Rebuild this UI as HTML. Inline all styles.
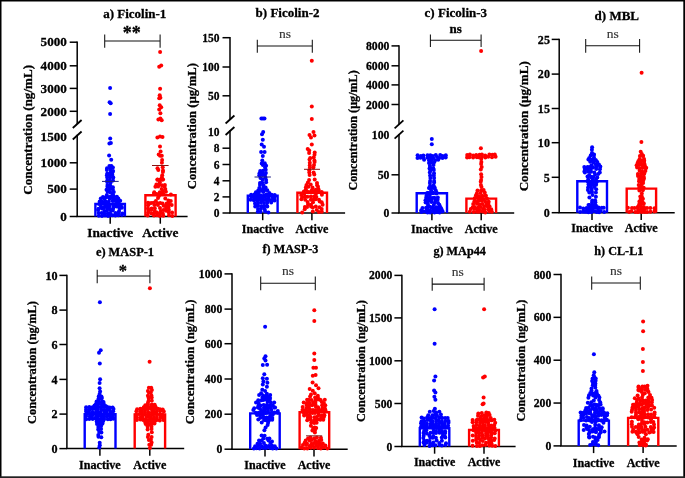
<!DOCTYPE html>
<html><head><meta charset="utf-8"><style>
html,body{margin:0;padding:0;background:#fff;}
svg{display:block;filter:blur(0.4px);}
text{font-family:"Liberation Serif", serif;fill:#000;stroke:#000;stroke-width:0.3px;}
.t{font-weight:bold;}
.tk{font-weight:bold;font-size:12.5px;text-anchor:end;}
.xl{font-weight:bold;font-size:11.8px;text-anchor:middle;}
.yl{font-weight:bold;font-size:13px;text-anchor:middle;}
.sg{text-anchor:middle;fill:#333;stroke:#333;stroke-width:0.15px;}
.sgb{font-weight:bold;text-anchor:middle;}
.ax{stroke:#000;stroke-width:1.5;fill:none;}
.sl{stroke:#000;stroke-width:1.8;}
.br{stroke:#111;stroke-width:1.05;fill:none;}
</style></head><body>
<svg width="685" height="478" viewBox="0 0 685 478">
<rect x="0" y="0" width="685" height="1.5" fill="#000"/><rect x="0" y="0" width="1.5" height="478" fill="#000"/><rect x="683.3" y="0" width="1.7" height="478" fill="#000"/><rect x="0" y="476.3" width="685" height="1.7" fill="#222"/>
<text x="103.2" y="17.6" class="t" style="font-size:13.0px">a) Ficolin-1</text>
<line x1="77.2" y1="41.45" x2="77.2" y2="124" class="ax"/>
<line x1="77.2" y1="134.75" x2="77.2" y2="216.5" class="ax"/>
<line x1="72.8" y1="128" x2="81.6" y2="120" class="sl"/>
<line x1="72.8" y1="139.5" x2="81.6" y2="131.5" class="sl"/>
<line x1="69.7" y1="42.2" x2="77.2" y2="42.2" class="ax"/>
<text transform="translate(66.8,46.42) scale(1.0,1)" class="tk" style="font-size:13.1px">5000</text>
<line x1="69.7" y1="65.8" x2="77.2" y2="65.8" class="ax"/>
<text transform="translate(66.8,70.02) scale(1.0,1)" class="tk" style="font-size:13.1px">4000</text>
<line x1="69.7" y1="88.4" x2="77.2" y2="88.4" class="ax"/>
<text transform="translate(66.8,92.62) scale(1.0,1)" class="tk" style="font-size:13.1px">3000</text>
<line x1="69.7" y1="111.3" x2="77.2" y2="111.3" class="ax"/>
<text transform="translate(66.8,115.52) scale(1.0,1)" class="tk" style="font-size:13.1px">2000</text>
<line x1="69.7" y1="162.8" x2="77.2" y2="162.8" class="ax"/>
<text transform="translate(66.8,167.02) scale(1.0,1)" class="tk" style="font-size:13.1px">1000</text>
<line x1="69.7" y1="189.1" x2="77.2" y2="189.1" class="ax"/>
<text transform="translate(66.8,193.32) scale(1.0,1)" class="tk" style="font-size:13.1px">500</text>
<line x1="69.7" y1="216.5" x2="77.2" y2="216.5" class="ax"/>
<text transform="translate(66.8,220.72) scale(1.0,1)" class="tk" style="font-size:13.1px">0</text>
<text transform="translate(66.8,140.72) scale(1.0,1)" class="tk" style="font-size:13.1px">1500</text>
<line x1="76.45" y1="216.5" x2="187.6" y2="216.5" class="ax"/>
<line x1="110.2" y1="216.5" x2="110.2" y2="223.7" class="ax"/>
<line x1="160.3" y1="216.5" x2="160.3" y2="223.7" class="ax"/>
<text x="110.2" y="237.4" class="xl" style="font-size:13.3px">Inactive</text>
<text x="160.3" y="237.4" class="xl" style="font-size:13.3px">Active</text>
<text transform="translate(32.2,129.9) rotate(-90)" class="yl" style="font-size:13.1px">Concentration (ng/mL)</text>
<path d="M104.7 41H160.1M104.7 34.4V47.7M160.1 34.4V47.7" class="br"/>
<text x="131.8" y="39.4" class="sgb" style="font-size:18px">**</text>
<path d="M95.4 216.5V204H124.9V216.5" fill="none" stroke="#0000ff" stroke-width="2.4"/>
<path d="M145.4 216.5V195.2H175.6V216.5" fill="none" stroke="#ff0000" stroke-width="2.4"/>
<text x="255.6" y="17.2" class="t" style="font-size:13.0px">b) Ficolin-2</text>
<line x1="230" y1="36.95" x2="230" y2="119.5" class="ax"/>
<line x1="230" y1="130.25" x2="230" y2="213" class="ax"/>
<line x1="225.6" y1="123.5" x2="234.4" y2="115.5" class="sl"/>
<line x1="225.6" y1="135" x2="234.4" y2="127" class="sl"/>
<line x1="222.5" y1="37.7" x2="230" y2="37.7" class="ax"/>
<text transform="translate(219.6,41.7) scale(0.92,1)" class="tk" style="font-size:12.5px">150</text>
<line x1="222.5" y1="67" x2="230" y2="67" class="ax"/>
<text transform="translate(219.6,71) scale(0.92,1)" class="tk" style="font-size:12.5px">100</text>
<line x1="222.5" y1="95.8" x2="230" y2="95.8" class="ax"/>
<text transform="translate(219.6,99.8) scale(0.92,1)" class="tk" style="font-size:12.5px">50</text>
<line x1="222.5" y1="148.2" x2="230" y2="148.2" class="ax"/>
<text transform="translate(219.6,152.2) scale(0.92,1)" class="tk" style="font-size:12.5px">8</text>
<line x1="222.5" y1="164.5" x2="230" y2="164.5" class="ax"/>
<text transform="translate(219.6,168.5) scale(0.92,1)" class="tk" style="font-size:12.5px">6</text>
<line x1="222.5" y1="180.8" x2="230" y2="180.8" class="ax"/>
<text transform="translate(219.6,184.8) scale(0.92,1)" class="tk" style="font-size:12.5px">4</text>
<line x1="222.5" y1="196.9" x2="230" y2="196.9" class="ax"/>
<text transform="translate(219.6,200.9) scale(0.92,1)" class="tk" style="font-size:12.5px">2</text>
<line x1="222.5" y1="213" x2="230" y2="213" class="ax"/>
<text transform="translate(219.6,217) scale(0.92,1)" class="tk" style="font-size:12.5px">0</text>
<text transform="translate(219.6,136.4) scale(0.92,1)" class="tk" style="font-size:12.5px">10</text>
<line x1="229.25" y1="213" x2="345.1" y2="213" class="ax"/>
<line x1="262.7" y1="213" x2="262.7" y2="220.2" class="ax"/>
<line x1="311.9" y1="213" x2="311.9" y2="220.2" class="ax"/>
<text x="262.7" y="233.1" class="xl" style="font-size:12.1px">Inactive</text>
<text x="311.9" y="233.1" class="xl" style="font-size:12.1px">Active</text>
<text transform="translate(195.5,126.15) rotate(-90)" class="yl" style="font-size:12.7px">Concentration (µg/mL)</text>
<path d="M257.3 46H312.3M257.3 39.7V52.7M312.3 39.7V52.7" class="br"/>
<text x="284.9" y="38.2" class="sg" style="font-size:13.5px">ns</text>
<path d="M247.8 213V195.7H277.6V213" fill="none" stroke="#0000ff" stroke-width="2.4"/>
<path d="M297.4 213V192.8H327V213" fill="none" stroke="#ff0000" stroke-width="2.4"/>
<text x="424.6" y="16.6" class="t" style="font-size:13.0px">c) Ficolin-3</text>
<line x1="399" y1="45.15" x2="399" y2="124.3" class="ax"/>
<line x1="399" y1="133.95" x2="399" y2="213" class="ax"/>
<line x1="394.6" y1="128.3" x2="403.4" y2="120.3" class="sl"/>
<line x1="394.6" y1="138.7" x2="403.4" y2="130.7" class="sl"/>
<line x1="391.5" y1="45.9" x2="399" y2="45.9" class="ax"/>
<text transform="translate(389.4,50.01) scale(0.92,1)" class="tk" style="font-size:12.8px">8000</text>
<line x1="391.5" y1="65.8" x2="399" y2="65.8" class="ax"/>
<text transform="translate(389.4,69.91) scale(0.92,1)" class="tk" style="font-size:12.8px">6000</text>
<line x1="391.5" y1="84.9" x2="399" y2="84.9" class="ax"/>
<text transform="translate(389.4,89.01) scale(0.92,1)" class="tk" style="font-size:12.8px">4000</text>
<line x1="391.5" y1="104.5" x2="399" y2="104.5" class="ax"/>
<text transform="translate(389.4,108.61) scale(0.92,1)" class="tk" style="font-size:12.8px">2000</text>
<line x1="391.5" y1="174.8" x2="399" y2="174.8" class="ax"/>
<text transform="translate(389.4,178.91) scale(0.92,1)" class="tk" style="font-size:12.8px">50</text>
<line x1="391.5" y1="213" x2="399" y2="213" class="ax"/>
<text transform="translate(389.4,217.11) scale(0.92,1)" class="tk" style="font-size:12.8px">0</text>
<text transform="translate(389.4,139.41) scale(0.92,1)" class="tk" style="font-size:12.8px">100</text>
<line x1="398.25" y1="213" x2="514.2" y2="213" class="ax"/>
<line x1="431.9" y1="213" x2="431.9" y2="220.2" class="ax"/>
<line x1="481.2" y1="213" x2="481.2" y2="220.2" class="ax"/>
<text x="431.9" y="232.5" class="xl" style="font-size:12.1px">Inactive</text>
<text x="481.2" y="232.5" class="xl" style="font-size:12.1px">Active</text>
<text transform="translate(357.4,130.4) rotate(-90)" class="yl" style="font-size:12.1px">Concentration (µg/mL)</text>
<path d="M430.4 40.2H481.1M430.4 34.4V47M481.1 34.4V47" class="br"/>
<text x="455.6" y="32.6" class="sgb" style="font-size:13px">ns</text>
<path d="M416.7 213V193.2H447V213" fill="none" stroke="#0000ff" stroke-width="2.4"/>
<path d="M466.4 213V198.6H496.1V213" fill="none" stroke="#ff0000" stroke-width="2.4"/>
<text x="594.6" y="19.6" class="t" style="font-size:13.0px">d) MBL</text>
<line x1="559.2" y1="38.65" x2="559.2" y2="212.7" class="ax"/>
<line x1="551.7" y1="39.4" x2="559.2" y2="39.4" class="ax"/>
<text transform="translate(549.9,43.72) scale(0.9,1)" class="tk" style="font-size:13.4px">25</text>
<line x1="551.7" y1="74.1" x2="559.2" y2="74.1" class="ax"/>
<text transform="translate(549.9,78.42) scale(0.9,1)" class="tk" style="font-size:13.4px">20</text>
<line x1="551.7" y1="108.5" x2="559.2" y2="108.5" class="ax"/>
<text transform="translate(549.9,112.82) scale(0.9,1)" class="tk" style="font-size:13.4px">15</text>
<line x1="551.7" y1="142.7" x2="559.2" y2="142.7" class="ax"/>
<text transform="translate(549.9,147.02) scale(0.9,1)" class="tk" style="font-size:13.4px">10</text>
<line x1="551.7" y1="177.3" x2="559.2" y2="177.3" class="ax"/>
<text transform="translate(549.9,181.62) scale(0.9,1)" class="tk" style="font-size:13.4px">5</text>
<line x1="551.7" y1="212.7" x2="559.2" y2="212.7" class="ax"/>
<text transform="translate(549.9,217.02) scale(0.9,1)" class="tk" style="font-size:13.4px">0</text>
<line x1="558.45" y1="212.7" x2="674.7" y2="212.7" class="ax"/>
<line x1="592" y1="212.7" x2="592" y2="219.9" class="ax"/>
<line x1="641.2" y1="212.7" x2="641.2" y2="219.9" class="ax"/>
<text x="592" y="232" class="xl" style="font-size:12.1px">Inactive</text>
<text x="641.2" y="232" class="xl" style="font-size:12.1px">Active</text>
<text transform="translate(528.3,126.3) rotate(-90)" class="yl" style="font-size:13.1px">Concentration (µg/mL)</text>
<path d="M585.7 45.7H639.6M585.7 38.9V52.7M639.6 38.9V52.7" class="br"/>
<text x="612.7" y="37.7" class="sg" style="font-size:13.5px">ns</text>
<path d="M577.3 212.7V181.3H607V212.7" fill="none" stroke="#0000ff" stroke-width="2.4"/>
<path d="M626.7 212.7V188.6H656.1V212.7" fill="none" stroke="#ff0000" stroke-width="2.4"/>
<text x="95.9" y="255.6" class="t" style="font-size:12.4px">e) MASP-1</text>
<line x1="66.9" y1="274.65" x2="66.9" y2="448.6" class="ax"/>
<line x1="59.4" y1="275.4" x2="66.9" y2="275.4" class="ax"/>
<text transform="translate(57.6,279.51) scale(0.95,1)" class="tk" style="font-size:12.8px">10</text>
<line x1="59.4" y1="310.1" x2="66.9" y2="310.1" class="ax"/>
<text transform="translate(57.6,314.21) scale(0.95,1)" class="tk" style="font-size:12.8px">8</text>
<line x1="59.4" y1="344.5" x2="66.9" y2="344.5" class="ax"/>
<text transform="translate(57.6,348.61) scale(0.95,1)" class="tk" style="font-size:12.8px">6</text>
<line x1="59.4" y1="379.4" x2="66.9" y2="379.4" class="ax"/>
<text transform="translate(57.6,383.51) scale(0.95,1)" class="tk" style="font-size:12.8px">4</text>
<line x1="59.4" y1="414.1" x2="66.9" y2="414.1" class="ax"/>
<text transform="translate(57.6,418.21) scale(0.95,1)" class="tk" style="font-size:12.8px">2</text>
<line x1="59.4" y1="448.6" x2="66.9" y2="448.6" class="ax"/>
<text transform="translate(57.6,452.71) scale(0.95,1)" class="tk" style="font-size:12.8px">0</text>
<line x1="66.15" y1="448.6" x2="184.2" y2="448.6" class="ax"/>
<line x1="99.9" y1="448.6" x2="99.9" y2="455.8" class="ax"/>
<line x1="149.8" y1="448.6" x2="149.8" y2="455.8" class="ax"/>
<text x="99.9" y="468.7" class="xl" style="font-size:12.1px">Inactive</text>
<text x="149.8" y="468.7" class="xl" style="font-size:12.1px">Active</text>
<text transform="translate(35.7,362.55) rotate(-90)" class="yl" style="font-size:12.4px">Concentration (ng/mL)</text>
<path d="M97.2 276H149.9M97.2 269.7V283.2M149.9 269.7V283.2" class="br"/>
<text x="122.75" y="275.6" class="sgb" style="font-size:16.5px">*</text>
<path d="M84.7 448.6V414.2H115.5V448.6" fill="none" stroke="#0000ff" stroke-width="2.4"/>
<path d="M134.7 448.6V414.5H165.1V448.6" fill="none" stroke="#ff0000" stroke-width="2.4"/>
<text x="262.5" y="253.3" class="t" style="font-size:12.2px">f) MASP-3</text>
<line x1="232" y1="273.15" x2="232" y2="449.2" class="ax"/>
<line x1="224.5" y1="273.9" x2="232" y2="273.9" class="ax"/>
<text transform="translate(222.3,278.01) scale(0.92,1)" class="tk" style="font-size:12.8px">1000</text>
<line x1="224.5" y1="309.1" x2="232" y2="309.1" class="ax"/>
<text transform="translate(222.3,313.21) scale(0.92,1)" class="tk" style="font-size:12.8px">800</text>
<line x1="224.5" y1="343.7" x2="232" y2="343.7" class="ax"/>
<text transform="translate(222.3,347.81) scale(0.92,1)" class="tk" style="font-size:12.8px">600</text>
<line x1="224.5" y1="379" x2="232" y2="379" class="ax"/>
<text transform="translate(222.3,383.11) scale(0.92,1)" class="tk" style="font-size:12.8px">400</text>
<line x1="224.5" y1="414.2" x2="232" y2="414.2" class="ax"/>
<text transform="translate(222.3,418.31) scale(0.92,1)" class="tk" style="font-size:12.8px">200</text>
<line x1="224.5" y1="449.2" x2="232" y2="449.2" class="ax"/>
<text transform="translate(222.3,453.31) scale(0.92,1)" class="tk" style="font-size:12.8px">0</text>
<line x1="231.25" y1="449.2" x2="347.7" y2="449.2" class="ax"/>
<line x1="265" y1="449.2" x2="265" y2="456.4" class="ax"/>
<line x1="314" y1="449.2" x2="314" y2="456.4" class="ax"/>
<text x="265" y="468.5" class="xl" style="font-size:12.0px">Inactive</text>
<text x="314" y="468.5" class="xl" style="font-size:12.0px">Active</text>
<text transform="translate(194,361.9) rotate(-90)" class="yl" style="font-size:12.6px">Concentration (ng/mL)</text>
<path d="M260.7 283.2H315.3M260.7 276.4V290.3M315.3 276.4V290.3" class="br"/>
<text x="288.1" y="275.2" class="sg" style="font-size:13.5px">ns</text>
<path d="M250.2 449.2V413.4H279.7V449.2" fill="none" stroke="#0000ff" stroke-width="2.4"/>
<path d="M299.6 449.2V412.3H329.2V449.2" fill="none" stroke="#ff0000" stroke-width="2.4"/>
<text x="433.4" y="255.1" class="t" style="font-size:12.2px">g) MAp44</text>
<line x1="401.9" y1="274.65" x2="401.9" y2="446.5" class="ax"/>
<line x1="394.4" y1="275.4" x2="401.9" y2="275.4" class="ax"/>
<text transform="translate(392.3,279.47) scale(0.92,1)" class="tk" style="font-size:12.7px">2000</text>
<line x1="394.4" y1="317.9" x2="401.9" y2="317.9" class="ax"/>
<text transform="translate(392.3,321.97) scale(0.92,1)" class="tk" style="font-size:12.7px">1500</text>
<line x1="394.4" y1="360.8" x2="401.9" y2="360.8" class="ax"/>
<text transform="translate(392.3,364.87) scale(0.92,1)" class="tk" style="font-size:12.7px">1000</text>
<line x1="394.4" y1="403.5" x2="401.9" y2="403.5" class="ax"/>
<text transform="translate(392.3,407.57) scale(0.92,1)" class="tk" style="font-size:12.7px">500</text>
<line x1="394.4" y1="446.5" x2="401.9" y2="446.5" class="ax"/>
<text transform="translate(392.3,450.57) scale(0.92,1)" class="tk" style="font-size:12.7px">0</text>
<line x1="401.15" y1="446.5" x2="515.6" y2="446.5" class="ax"/>
<line x1="434.6" y1="446.5" x2="434.6" y2="453.7" class="ax"/>
<line x1="484" y1="446.5" x2="484" y2="453.7" class="ax"/>
<text x="434.6" y="466.3" class="xl" style="font-size:12.0px">Inactive</text>
<text x="484" y="466.3" class="xl" style="font-size:12.0px">Active</text>
<text transform="translate(364.5,361.05) rotate(-90)" class="yl" style="font-size:12.3px">Concentration (ng/mL)</text>
<path d="M432.2 284.1H484.1M432.2 277.7V290.8M484.1 277.7V290.8" class="br"/>
<text x="457.7" y="276.4" class="sg" style="font-size:13.5px">ns</text>
<path d="M419.8 446.5V428.2H449.3V446.5" fill="none" stroke="#0000ff" stroke-width="2.4"/>
<path d="M469.1 446.5V430H498.9V446.5" fill="none" stroke="#ff0000" stroke-width="2.4"/>
<text x="594.3" y="254.6" class="t" style="font-size:12.2px">h) CL-L1</text>
<line x1="561" y1="273.75" x2="561" y2="445.9" class="ax"/>
<line x1="553.5" y1="274.5" x2="561" y2="274.5" class="ax"/>
<text transform="translate(551.3,278.61) scale(0.92,1)" class="tk" style="font-size:12.8px">800</text>
<line x1="553.5" y1="317.35" x2="561" y2="317.35" class="ax"/>
<text transform="translate(551.3,321.46) scale(0.92,1)" class="tk" style="font-size:12.8px">600</text>
<line x1="553.5" y1="360.2" x2="561" y2="360.2" class="ax"/>
<text transform="translate(551.3,364.31) scale(0.92,1)" class="tk" style="font-size:12.8px">400</text>
<line x1="553.5" y1="403.05" x2="561" y2="403.05" class="ax"/>
<text transform="translate(551.3,407.16) scale(0.92,1)" class="tk" style="font-size:12.8px">200</text>
<line x1="553.5" y1="445.9" x2="561" y2="445.9" class="ax"/>
<text transform="translate(551.3,450.01) scale(0.92,1)" class="tk" style="font-size:12.8px">0</text>
<line x1="560.25" y1="445.9" x2="676.7" y2="445.9" class="ax"/>
<line x1="593.6" y1="445.9" x2="593.6" y2="453.1" class="ax"/>
<line x1="643.1" y1="445.9" x2="643.1" y2="453.1" class="ax"/>
<text x="593.6" y="466.5" class="xl" style="font-size:12.1px">Inactive</text>
<text x="643.1" y="466.5" class="xl" style="font-size:12.1px">Active</text>
<text transform="translate(525.2,360.6) rotate(-90)" class="yl" style="font-size:12.3px">Concentration (ng/mL)</text>
<path d="M591.7 283H640.3M591.7 276.4V289.8M640.3 276.4V289.8" class="br"/>
<text x="616.1" y="275.2" class="sg" style="font-size:13.5px">ns</text>
<path d="M578.7 445.9V420.6H608.9V445.9" fill="none" stroke="#0000ff" stroke-width="2.4"/>
<path d="M628.1 445.9V417.9H658.3V445.9" fill="none" stroke="#ff0000" stroke-width="2.4"/>
<g fill="#0000ff"><circle cx="107.0" cy="168.2" r="2.0"/><circle cx="110.3" cy="167.8" r="2.0"/><circle cx="112.9" cy="167.4" r="2.0"/><circle cx="106.9" cy="169.9" r="2.0"/><circle cx="110.7" cy="170.0" r="2.0"/><circle cx="113.1" cy="171.0" r="2.0"/><circle cx="107.3" cy="173.4" r="2.0"/><circle cx="110.7" cy="172.6" r="2.0"/><circle cx="112.4" cy="172.6" r="2.0"/><circle cx="106.9" cy="175.3" r="2.0"/><circle cx="110.0" cy="175.3" r="2.0"/><circle cx="112.4" cy="174.9" r="2.0"/><circle cx="107.2" cy="177.4" r="2.0"/><circle cx="110.1" cy="177.4" r="2.0"/><circle cx="113.3" cy="177.4" r="2.0"/><circle cx="107.3" cy="180.5" r="2.0"/><circle cx="109.9" cy="180.7" r="2.0"/><circle cx="113.0" cy="180.4" r="2.0"/><circle cx="107.2" cy="181.9" r="2.0"/><circle cx="110.6" cy="182.6" r="2.0"/><circle cx="107.5" cy="185.0" r="2.0"/><circle cx="110.1" cy="185.3" r="2.0"/><circle cx="107.4" cy="186.8" r="2.0"/><circle cx="110.4" cy="187.9" r="2.0"/><circle cx="112.9" cy="187.2" r="2.0"/><circle cx="106.5" cy="189.7" r="2.0"/><circle cx="109.7" cy="189.2" r="2.0"/><circle cx="112.8" cy="189.4" r="2.0"/><circle cx="107.6" cy="191.7" r="2.0"/><circle cx="110.3" cy="192.6" r="2.0"/><circle cx="113.8" cy="191.9" r="2.0"/><circle cx="106.8" cy="195.0" r="2.0"/><circle cx="112.9" cy="194.3" r="2.0"/><circle cx="107.0" cy="197.1" r="2.0"/><circle cx="109.5" cy="196.9" r="2.0"/><circle cx="113.5" cy="197.5" r="2.0"/><circle cx="103.0" cy="197.1" r="2.0"/><circle cx="105.3" cy="197.5" r="2.0"/><circle cx="109.3" cy="197.4" r="2.0"/><circle cx="111.5" cy="196.5" r="2.0"/><circle cx="113.9" cy="196.5" r="2.0"/><circle cx="116.9" cy="196.8" r="2.0"/><circle cx="100.8" cy="198.6" r="2.0"/><circle cx="104.2" cy="198.4" r="2.0"/><circle cx="109.7" cy="198.7" r="2.0"/><circle cx="112.9" cy="198.5" r="2.0"/><circle cx="116.7" cy="199.0" r="2.0"/><circle cx="118.3" cy="198.5" r="2.0"/><circle cx="99.7" cy="201.4" r="2.0"/><circle cx="102.2" cy="201.5" r="2.0"/><circle cx="105.3" cy="201.1" r="2.0"/><circle cx="108.8" cy="201.6" r="2.0"/><circle cx="114.2" cy="200.8" r="2.0"/><circle cx="117.9" cy="201.0" r="2.0"/><circle cx="120.2" cy="200.7" r="2.0"/><circle cx="112.7" cy="201.0" r="2.0"/><circle cx="115.4" cy="200.4" r="2.0"/><circle cx="118.6" cy="201.2" r="2.0"/><circle cx="99.1" cy="204.0" r="2.0"/><circle cx="104.0" cy="203.1" r="2.0"/><circle cx="106.9" cy="203.6" r="2.0"/><circle cx="116.3" cy="203.8" r="2.0"/><circle cx="119.2" cy="203.9" r="2.0"/><circle cx="101.0" cy="206.2" r="2.0"/><circle cx="104.8" cy="206.4" r="2.0"/><circle cx="107.1" cy="206.4" r="2.0"/><circle cx="109.7" cy="205.4" r="2.0"/><circle cx="113.7" cy="206.2" r="2.0"/><circle cx="116.5" cy="206.4" r="2.0"/><circle cx="118.8" cy="205.9" r="2.0"/><circle cx="121.2" cy="206.4" r="2.0"/><circle cx="98.5" cy="208.8" r="2.0"/><circle cx="101.9" cy="208.6" r="2.0"/><circle cx="104.0" cy="208.0" r="2.0"/><circle cx="107.4" cy="208.0" r="2.0"/><circle cx="109.7" cy="208.7" r="2.0"/><circle cx="113.1" cy="208.4" r="2.0"/><circle cx="119.6" cy="208.3" r="2.0"/><circle cx="121.9" cy="207.7" r="2.0"/><circle cx="98.1" cy="210.1" r="2.0"/><circle cx="104.3" cy="210.9" r="2.0"/><circle cx="107.0" cy="210.7" r="2.0"/><circle cx="110.6" cy="210.2" r="2.0"/><circle cx="112.8" cy="210.4" r="2.0"/><circle cx="119.1" cy="211.0" r="2.0"/><circle cx="98.7" cy="213.1" r="2.0"/><circle cx="101.7" cy="213.0" r="2.0"/><circle cx="104.3" cy="213.6" r="2.0"/><circle cx="107.8" cy="213.6" r="2.0"/><circle cx="110.3" cy="213.6" r="2.0"/><circle cx="115.5" cy="213.0" r="2.0"/><circle cx="118.6" cy="212.6" r="2.0"/><circle cx="122.3" cy="213.6" r="2.0"/><circle cx="98.8" cy="215.7" r="2.0"/><circle cx="102.0" cy="216.1" r="2.0"/><circle cx="105.0" cy="215.4" r="2.0"/><circle cx="108.0" cy="215.9" r="2.0"/><circle cx="110.1" cy="215.5" r="2.0"/><circle cx="112.7" cy="215.3" r="2.0"/><circle cx="115.4" cy="215.6" r="2.0"/><circle cx="118.3" cy="215.3" r="2.0"/><circle cx="121.9" cy="215.0" r="2.0"/><circle cx="110.1" cy="88.1" r="2.0"/><circle cx="109.6" cy="102.3" r="2.0"/><circle cx="110.7" cy="103.2" r="2.0"/><circle cx="110.1" cy="114.1" r="2.0"/><circle cx="110.2" cy="138.6" r="2.0"/><circle cx="109.4" cy="143.6" r="2.0"/><circle cx="110.9" cy="143.1" r="2.0"/><circle cx="109.1" cy="155.6" r="2.0"/><circle cx="111.2" cy="159.8" r="2.0"/><circle cx="109.4" cy="166.1" r="2.0"/><circle cx="111.4" cy="166.1" r="2.0"/></g>
<g fill="#ff0000"><circle cx="162.1" cy="159.9" r="2.0"/><circle cx="161.9" cy="162.8" r="2.0"/><circle cx="157.5" cy="168.3" r="2.0"/><circle cx="162.7" cy="167.3" r="2.0"/><circle cx="158.3" cy="170.1" r="2.0"/><circle cx="163.0" cy="170.4" r="2.0"/><circle cx="162.9" cy="172.1" r="2.0"/><circle cx="162.2" cy="175.2" r="2.0"/><circle cx="161.9" cy="177.6" r="2.0"/><circle cx="157.5" cy="179.6" r="2.0"/><circle cx="162.0" cy="179.8" r="2.0"/><circle cx="157.4" cy="179.7" r="2.0"/><circle cx="159.7" cy="179.8" r="2.0"/><circle cx="163.1" cy="179.4" r="2.0"/><circle cx="159.8" cy="182.3" r="2.0"/><circle cx="156.4" cy="184.6" r="2.0"/><circle cx="159.3" cy="184.5" r="2.0"/><circle cx="161.9" cy="185.2" r="2.0"/><circle cx="164.9" cy="184.9" r="2.0"/><circle cx="155.4" cy="186.8" r="2.0"/><circle cx="158.1" cy="186.5" r="2.0"/><circle cx="164.4" cy="186.5" r="2.0"/><circle cx="161.6" cy="189.0" r="2.0"/><circle cx="165.3" cy="188.9" r="2.0"/><circle cx="154.2" cy="192.2" r="2.0"/><circle cx="159.8" cy="192.2" r="2.0"/><circle cx="162.8" cy="191.1" r="2.0"/><circle cx="165.9" cy="191.7" r="2.0"/><circle cx="154.0" cy="193.4" r="2.0"/><circle cx="156.5" cy="193.9" r="2.0"/><circle cx="159.5" cy="193.8" r="2.0"/><circle cx="163.4" cy="194.0" r="2.0"/><circle cx="162.3" cy="193.6" r="2.0"/><circle cx="170.9" cy="194.5" r="2.0"/><circle cx="158.7" cy="196.3" r="2.0"/><circle cx="158.0" cy="198.1" r="2.0"/><circle cx="165.3" cy="198.6" r="2.0"/><circle cx="155.9" cy="201.0" r="2.0"/><circle cx="168.4" cy="200.5" r="2.0"/><circle cx="170.8" cy="201.0" r="2.0"/><circle cx="149.3" cy="203.6" r="2.0"/><circle cx="148.0" cy="202.7" r="2.0"/><circle cx="151.2" cy="203.1" r="2.0"/><circle cx="153.7" cy="202.7" r="2.0"/><circle cx="157.5" cy="203.2" r="2.0"/><circle cx="160.2" cy="203.0" r="2.0"/><circle cx="162.6" cy="203.5" r="2.0"/><circle cx="166.7" cy="203.5" r="2.0"/><circle cx="168.9" cy="203.4" r="2.0"/><circle cx="148.1" cy="205.2" r="2.0"/><circle cx="154.4" cy="205.1" r="2.0"/><circle cx="157.9" cy="205.1" r="2.0"/><circle cx="163.7" cy="205.7" r="2.0"/><circle cx="166.7" cy="205.5" r="2.0"/><circle cx="168.4" cy="205.5" r="2.0"/><circle cx="171.7" cy="205.1" r="2.0"/><circle cx="148.0" cy="208.4" r="2.0"/><circle cx="151.6" cy="208.4" r="2.0"/><circle cx="154.8" cy="208.3" r="2.0"/><circle cx="160.0" cy="207.9" r="2.0"/><circle cx="166.0" cy="207.9" r="2.0"/><circle cx="168.5" cy="207.5" r="2.0"/><circle cx="148.8" cy="210.2" r="2.0"/><circle cx="151.2" cy="210.1" r="2.0"/><circle cx="154.8" cy="211.0" r="2.0"/><circle cx="160.8" cy="211.0" r="2.0"/><circle cx="163.5" cy="210.0" r="2.0"/><circle cx="166.1" cy="210.8" r="2.0"/><circle cx="168.9" cy="210.0" r="2.0"/><circle cx="148.1" cy="212.8" r="2.0"/><circle cx="151.5" cy="213.6" r="2.0"/><circle cx="154.4" cy="212.8" r="2.0"/><circle cx="157.0" cy="212.6" r="2.0"/><circle cx="159.8" cy="213.5" r="2.0"/><circle cx="162.8" cy="213.5" r="2.0"/><circle cx="168.8" cy="212.6" r="2.0"/><circle cx="172.1" cy="212.5" r="2.0"/><circle cx="147.7" cy="215.6" r="2.0"/><circle cx="154.0" cy="215.4" r="2.0"/><circle cx="157.0" cy="215.3" r="2.0"/><circle cx="159.9" cy="216.1" r="2.0"/><circle cx="163.3" cy="215.7" r="2.0"/><circle cx="169.0" cy="215.2" r="2.0"/><circle cx="172.3" cy="216.0" r="2.0"/><circle cx="160.1" cy="52.0" r="2.0"/><circle cx="159.2" cy="66.8" r="2.0"/><circle cx="161.2" cy="65.4" r="2.0"/><circle cx="160.1" cy="88.8" r="2.0"/><circle cx="159.7" cy="95.2" r="2.0"/><circle cx="160.4" cy="97.7" r="2.0"/><circle cx="159.2" cy="98.2" r="2.0"/><circle cx="159.7" cy="105.3" r="2.0"/><circle cx="161.2" cy="107.3" r="2.0"/><circle cx="159.2" cy="109.4" r="2.0"/><circle cx="160.4" cy="113.3" r="2.0"/><circle cx="158.4" cy="119.5" r="2.0"/><circle cx="161.7" cy="120.3" r="2.0"/><circle cx="160.4" cy="118.6" r="2.0"/><circle cx="157.4" cy="137.6" r="2.0"/><circle cx="162.5" cy="137.0" r="2.0"/><circle cx="160.0" cy="136.4" r="2.0"/><circle cx="160.0" cy="146.4" r="2.0"/><circle cx="160.6" cy="151.4" r="2.0"/><circle cx="158.7" cy="154.6" r="2.0"/><circle cx="161.8" cy="155.8" r="2.0"/><circle cx="160.1" cy="155.7" r="2.0"/></g>
<g fill="#0000ff"><circle cx="264.8" cy="163.3" r="2.0"/><circle cx="262.9" cy="164.9" r="2.0"/><circle cx="266.1" cy="165.8" r="2.0"/><circle cx="265.0" cy="167.5" r="2.0"/><circle cx="260.2" cy="170.9" r="2.0"/><circle cx="263.0" cy="170.7" r="2.0"/><circle cx="265.7" cy="169.8" r="2.0"/><circle cx="259.5" cy="173.3" r="2.0"/><circle cx="262.5" cy="172.4" r="2.0"/><circle cx="265.9" cy="173.1" r="2.0"/><circle cx="259.3" cy="175.3" r="2.0"/><circle cx="262.6" cy="174.9" r="2.0"/><circle cx="265.0" cy="175.0" r="2.0"/><circle cx="260.5" cy="177.9" r="2.0"/><circle cx="265.4" cy="177.4" r="2.0"/><circle cx="262.5" cy="179.6" r="2.0"/><circle cx="266.1" cy="180.1" r="2.0"/><circle cx="260.0" cy="183.1" r="2.0"/><circle cx="262.1" cy="182.4" r="2.0"/><circle cx="266.1" cy="182.3" r="2.0"/><circle cx="260.0" cy="185.1" r="2.0"/><circle cx="263.5" cy="184.9" r="2.0"/><circle cx="259.3" cy="187.9" r="2.0"/><circle cx="263.4" cy="187.5" r="2.0"/><circle cx="265.6" cy="187.4" r="2.0"/><circle cx="260.2" cy="189.6" r="2.0"/><circle cx="262.4" cy="190.6" r="2.0"/><circle cx="265.4" cy="189.5" r="2.0"/><circle cx="258.2" cy="190.5" r="2.0"/><circle cx="261.8" cy="190.5" r="2.0"/><circle cx="264.1" cy="190.5" r="2.0"/><circle cx="267.3" cy="190.2" r="2.0"/><circle cx="255.9" cy="192.3" r="2.0"/><circle cx="258.8" cy="192.2" r="2.0"/><circle cx="263.4" cy="192.0" r="2.0"/><circle cx="269.3" cy="192.9" r="2.0"/><circle cx="254.5" cy="194.5" r="2.0"/><circle cx="257.7" cy="195.5" r="2.0"/><circle cx="261.0" cy="195.5" r="2.0"/><circle cx="264.3" cy="195.4" r="2.0"/><circle cx="267.1" cy="194.4" r="2.0"/><circle cx="271.6" cy="194.7" r="2.0"/><circle cx="251.2" cy="194.8" r="2.0"/><circle cx="254.3" cy="195.1" r="2.0"/><circle cx="257.0" cy="194.8" r="2.0"/><circle cx="259.1" cy="195.3" r="2.0"/><circle cx="266.5" cy="194.4" r="2.0"/><circle cx="268.9" cy="195.5" r="2.0"/><circle cx="274.7" cy="194.9" r="2.0"/><circle cx="251.2" cy="197.1" r="2.0"/><circle cx="254.0" cy="197.9" r="2.0"/><circle cx="256.9" cy="197.3" r="2.0"/><circle cx="259.6" cy="197.8" r="2.0"/><circle cx="262.4" cy="197.8" r="2.0"/><circle cx="265.2" cy="196.9" r="2.0"/><circle cx="268.7" cy="198.1" r="2.0"/><circle cx="272.6" cy="197.2" r="2.0"/><circle cx="274.4" cy="197.5" r="2.0"/><circle cx="250.5" cy="199.7" r="2.0"/><circle cx="253.8" cy="200.2" r="2.0"/><circle cx="257.2" cy="200.2" r="2.0"/><circle cx="260.2" cy="199.8" r="2.0"/><circle cx="262.6" cy="200.3" r="2.0"/><circle cx="265.5" cy="199.7" r="2.0"/><circle cx="269.4" cy="200.1" r="2.0"/><circle cx="271.8" cy="200.6" r="2.0"/><circle cx="274.6" cy="200.4" r="2.0"/><circle cx="254.3" cy="199.5" r="2.0"/><circle cx="257.1" cy="200.4" r="2.0"/><circle cx="262.5" cy="199.5" r="2.0"/><circle cx="266.5" cy="200.1" r="2.0"/><circle cx="272.5" cy="199.9" r="2.0"/><circle cx="255.0" cy="203.5" r="2.0"/><circle cx="258.0" cy="203.1" r="2.0"/><circle cx="261.0" cy="202.6" r="2.0"/><circle cx="264.1" cy="203.1" r="2.0"/><circle cx="267.3" cy="202.4" r="2.0"/><circle cx="271.2" cy="202.6" r="2.0"/><circle cx="255.2" cy="206.4" r="2.0"/><circle cx="257.9" cy="205.5" r="2.0"/><circle cx="261.4" cy="206.2" r="2.0"/><circle cx="263.8" cy="206.2" r="2.0"/><circle cx="266.8" cy="205.8" r="2.0"/><circle cx="257.7" cy="205.8" r="2.0"/><circle cx="261.6" cy="206.6" r="2.0"/><circle cx="264.1" cy="206.3" r="2.0"/><circle cx="267.3" cy="206.5" r="2.0"/><circle cx="258.0" cy="208.9" r="2.0"/><circle cx="261.0" cy="208.6" r="2.0"/><circle cx="264.6" cy="209.2" r="2.0"/><circle cx="257.8" cy="211.8" r="2.0"/><circle cx="260.6" cy="211.7" r="2.0"/><circle cx="265.1" cy="211.5" r="2.0"/><circle cx="268.4" cy="212.6" r="2.0"/><circle cx="261.4" cy="118.6" r="2.0"/><circle cx="263.0" cy="118.6" r="2.0"/><circle cx="264.5" cy="118.6" r="2.0"/><circle cx="263.2" cy="131.9" r="2.0"/><circle cx="262.0" cy="134.2" r="2.0"/><circle cx="262.8" cy="139.7" r="2.0"/><circle cx="261.7" cy="144.5" r="2.0"/><circle cx="264.0" cy="146.8" r="2.0"/><circle cx="261.1" cy="152.0" r="2.0"/><circle cx="264.6" cy="152.0" r="2.0"/><circle cx="262.8" cy="156.0" r="2.0"/><circle cx="262.3" cy="160.6" r="2.0"/><circle cx="261.7" cy="163.5" r="2.0"/></g>
<g fill="#ff0000"><circle cx="309.2" cy="150.5" r="2.0"/><circle cx="309.1" cy="153.0" r="2.0"/><circle cx="314.7" cy="152.6" r="2.0"/><circle cx="314.5" cy="154.7" r="2.0"/><circle cx="310.2" cy="157.9" r="2.0"/><circle cx="313.7" cy="157.4" r="2.0"/><circle cx="309.5" cy="159.5" r="2.0"/><circle cx="314.4" cy="160.5" r="2.0"/><circle cx="309.8" cy="162.8" r="2.0"/><circle cx="314.6" cy="162.0" r="2.0"/><circle cx="309.8" cy="165.2" r="2.0"/><circle cx="314.0" cy="165.1" r="2.0"/><circle cx="309.9" cy="167.4" r="2.0"/><circle cx="313.4" cy="167.6" r="2.0"/><circle cx="309.3" cy="170.3" r="2.0"/><circle cx="309.3" cy="172.5" r="2.0"/><circle cx="313.6" cy="172.4" r="2.0"/><circle cx="309.6" cy="175.0" r="2.0"/><circle cx="314.3" cy="174.5" r="2.0"/><circle cx="309.1" cy="180.0" r="2.0"/><circle cx="314.7" cy="179.6" r="2.0"/><circle cx="307.9" cy="182.4" r="2.0"/><circle cx="317.0" cy="182.9" r="2.0"/><circle cx="306.5" cy="185.1" r="2.0"/><circle cx="310.7" cy="184.5" r="2.0"/><circle cx="317.1" cy="185.3" r="2.0"/><circle cx="305.9" cy="187.2" r="2.0"/><circle cx="308.4" cy="186.8" r="2.0"/><circle cx="312.5" cy="187.4" r="2.0"/><circle cx="318.0" cy="186.7" r="2.0"/><circle cx="305.9" cy="189.4" r="2.0"/><circle cx="312.0" cy="190.1" r="2.0"/><circle cx="315.7" cy="189.8" r="2.0"/><circle cx="318.5" cy="189.3" r="2.0"/><circle cx="308.4" cy="192.3" r="2.0"/><circle cx="311.4" cy="192.3" r="2.0"/><circle cx="315.7" cy="191.7" r="2.0"/><circle cx="319.3" cy="192.1" r="2.0"/><circle cx="303.9" cy="191.4" r="2.0"/><circle cx="307.7" cy="191.9" r="2.0"/><circle cx="311.0" cy="191.6" r="2.0"/><circle cx="313.6" cy="191.4" r="2.0"/><circle cx="316.1" cy="191.5" r="2.0"/><circle cx="318.8" cy="192.1" r="2.0"/><circle cx="321.7" cy="192.1" r="2.0"/><circle cx="301.2" cy="195.0" r="2.0"/><circle cx="304.1" cy="194.0" r="2.0"/><circle cx="315.9" cy="193.9" r="2.0"/><circle cx="321.9" cy="194.7" r="2.0"/><circle cx="302.3" cy="197.3" r="2.0"/><circle cx="305.2" cy="196.5" r="2.0"/><circle cx="307.4" cy="196.7" r="2.0"/><circle cx="310.8" cy="196.4" r="2.0"/><circle cx="314.0" cy="196.6" r="2.0"/><circle cx="316.4" cy="197.0" r="2.0"/><circle cx="301.4" cy="199.3" r="2.0"/><circle cx="305.2" cy="199.8" r="2.0"/><circle cx="310.9" cy="199.8" r="2.0"/><circle cx="313.7" cy="199.4" r="2.0"/><circle cx="315.7" cy="199.2" r="2.0"/><circle cx="319.0" cy="199.8" r="2.0"/><circle cx="307.6" cy="201.9" r="2.0"/><circle cx="313.0" cy="202.2" r="2.0"/><circle cx="319.7" cy="201.4" r="2.0"/><circle cx="321.7" cy="202.3" r="2.0"/><circle cx="308.1" cy="204.3" r="2.0"/><circle cx="311.0" cy="204.7" r="2.0"/><circle cx="322.6" cy="204.7" r="2.0"/><circle cx="304.9" cy="207.1" r="2.0"/><circle cx="307.1" cy="207.1" r="2.0"/><circle cx="311.0" cy="206.6" r="2.0"/><circle cx="312.8" cy="207.5" r="2.0"/><circle cx="315.8" cy="206.4" r="2.0"/><circle cx="319.5" cy="207.2" r="2.0"/><circle cx="304.7" cy="209.3" r="2.0"/><circle cx="316.8" cy="210.0" r="2.0"/><circle cx="321.7" cy="209.0" r="2.0"/><circle cx="302.2" cy="212.4" r="2.0"/><circle cx="312.8" cy="211.5" r="2.0"/><circle cx="318.9" cy="211.9" r="2.0"/><circle cx="321.8" cy="211.7" r="2.0"/><circle cx="311.8" cy="60.8" r="2.0"/><circle cx="311.8" cy="106.5" r="2.0"/><circle cx="311.8" cy="119.1" r="2.0"/><circle cx="309.5" cy="135.0" r="2.0"/><circle cx="313.5" cy="132.0" r="2.0"/><circle cx="314.5" cy="135.5" r="2.0"/><circle cx="311.0" cy="137.5" r="2.0"/><circle cx="311.8" cy="144.5" r="2.0"/><circle cx="307.7" cy="149.0" r="2.0"/></g>
<g fill="#0000ff"><circle cx="417.6" cy="155.3" r="2.0"/><circle cx="420.9" cy="155.9" r="2.0"/><circle cx="423.4" cy="155.4" r="2.0"/><circle cx="427.5" cy="155.3" r="2.0"/><circle cx="430.3" cy="155.2" r="2.0"/><circle cx="432.8" cy="155.9" r="2.0"/><circle cx="435.8" cy="155.1" r="2.0"/><circle cx="440.2" cy="154.9" r="2.0"/><circle cx="442.7" cy="155.9" r="2.0"/><circle cx="445.8" cy="155.3" r="2.0"/><circle cx="417.5" cy="158.0" r="2.0"/><circle cx="420.5" cy="157.7" r="2.0"/><circle cx="423.5" cy="157.7" r="2.0"/><circle cx="427.5" cy="157.7" r="2.0"/><circle cx="430.4" cy="157.3" r="2.0"/><circle cx="433.2" cy="158.0" r="2.0"/><circle cx="437.0" cy="156.9" r="2.0"/><circle cx="439.2" cy="158.0" r="2.0"/><circle cx="442.5" cy="158.0" r="2.0"/><circle cx="445.7" cy="157.5" r="2.0"/><circle cx="429.0" cy="160.2" r="2.0"/><circle cx="431.6" cy="159.6" r="2.0"/><circle cx="435.2" cy="160.3" r="2.0"/><circle cx="429.0" cy="163.0" r="2.0"/><circle cx="431.3" cy="162.6" r="2.0"/><circle cx="434.1" cy="162.3" r="2.0"/><circle cx="429.9" cy="165.7" r="2.0"/><circle cx="433.5" cy="165.0" r="2.0"/><circle cx="430.1" cy="167.6" r="2.0"/><circle cx="433.1" cy="168.6" r="2.0"/><circle cx="429.5" cy="168.6" r="2.0"/><circle cx="433.3" cy="168.6" r="2.0"/><circle cx="430.4" cy="170.4" r="2.0"/><circle cx="433.8" cy="170.0" r="2.0"/><circle cx="429.8" cy="172.4" r="2.0"/><circle cx="434.0" cy="173.2" r="2.0"/><circle cx="430.1" cy="175.5" r="2.0"/><circle cx="433.8" cy="175.4" r="2.0"/><circle cx="430.4" cy="177.9" r="2.0"/><circle cx="434.1" cy="177.9" r="2.0"/><circle cx="430.1" cy="181.0" r="2.0"/><circle cx="434.1" cy="180.9" r="2.0"/><circle cx="429.9" cy="182.9" r="2.0"/><circle cx="434.1" cy="182.5" r="2.0"/><circle cx="430.1" cy="185.8" r="2.0"/><circle cx="433.6" cy="185.4" r="2.0"/><circle cx="429.8" cy="187.9" r="2.0"/><circle cx="434.6" cy="187.6" r="2.0"/><circle cx="429.0" cy="187.9" r="2.0"/><circle cx="432.5" cy="187.4" r="2.0"/><circle cx="434.5" cy="188.3" r="2.0"/><circle cx="431.2" cy="190.6" r="2.0"/><circle cx="435.8" cy="190.5" r="2.0"/><circle cx="428.1" cy="193.0" r="2.0"/><circle cx="431.0" cy="192.7" r="2.0"/><circle cx="433.0" cy="193.3" r="2.0"/><circle cx="436.7" cy="192.8" r="2.0"/><circle cx="427.3" cy="192.9" r="2.0"/><circle cx="430.3" cy="192.9" r="2.0"/><circle cx="433.0" cy="192.7" r="2.0"/><circle cx="436.3" cy="193.5" r="2.0"/><circle cx="426.5" cy="195.7" r="2.0"/><circle cx="429.8" cy="194.9" r="2.0"/><circle cx="426.2" cy="197.7" r="2.0"/><circle cx="429.7" cy="197.5" r="2.0"/><circle cx="432.2" cy="198.0" r="2.0"/><circle cx="434.3" cy="197.7" r="2.0"/><circle cx="437.8" cy="197.5" r="2.0"/><circle cx="428.5" cy="199.7" r="2.0"/><circle cx="431.4" cy="199.4" r="2.0"/><circle cx="437.6" cy="199.8" r="2.0"/><circle cx="425.5" cy="200.2" r="2.0"/><circle cx="428.5" cy="200.5" r="2.0"/><circle cx="435.4" cy="200.5" r="2.0"/><circle cx="425.6" cy="202.6" r="2.0"/><circle cx="427.8" cy="202.9" r="2.0"/><circle cx="431.5" cy="201.9" r="2.0"/><circle cx="434.8" cy="202.7" r="2.0"/><circle cx="438.0" cy="202.9" r="2.0"/><circle cx="428.0" cy="204.9" r="2.0"/><circle cx="433.8" cy="205.1" r="2.0"/><circle cx="439.3" cy="204.8" r="2.0"/><circle cx="427.7" cy="207.3" r="2.0"/><circle cx="429.9" cy="206.8" r="2.0"/><circle cx="432.7" cy="207.2" r="2.0"/><circle cx="436.4" cy="207.2" r="2.0"/><circle cx="440.0" cy="206.6" r="2.0"/><circle cx="427.0" cy="209.8" r="2.0"/><circle cx="433.3" cy="210.2" r="2.0"/><circle cx="436.9" cy="209.8" r="2.0"/><circle cx="440.2" cy="209.8" r="2.0"/><circle cx="426.7" cy="212.0" r="2.0"/><circle cx="429.5" cy="211.4" r="2.0"/><circle cx="434.5" cy="212.4" r="2.0"/><circle cx="437.6" cy="212.0" r="2.0"/><circle cx="422.5" cy="207.9" r="2.0"/><circle cx="426.1" cy="207.8" r="2.0"/><circle cx="431.8" cy="207.7" r="2.0"/><circle cx="435.5" cy="208.2" r="2.0"/><circle cx="437.7" cy="207.8" r="2.0"/><circle cx="441.1" cy="208.2" r="2.0"/><circle cx="421.2" cy="210.3" r="2.0"/><circle cx="426.9" cy="209.8" r="2.0"/><circle cx="429.9" cy="210.5" r="2.0"/><circle cx="433.4" cy="210.3" r="2.0"/><circle cx="439.1" cy="210.2" r="2.0"/><circle cx="441.9" cy="210.2" r="2.0"/><circle cx="421.3" cy="211.9" r="2.0"/><circle cx="423.6" cy="211.6" r="2.0"/><circle cx="427.6" cy="212.5" r="2.0"/><circle cx="430.1" cy="212.4" r="2.0"/><circle cx="433.4" cy="211.7" r="2.0"/><circle cx="436.3" cy="211.8" r="2.0"/><circle cx="439.6" cy="212.5" r="2.0"/><circle cx="442.6" cy="211.4" r="2.0"/><circle cx="431.8" cy="139.1" r="2.0"/><circle cx="431.8" cy="144.3" r="2.0"/><circle cx="424.1" cy="159.7" r="2.0"/><circle cx="438.2" cy="159.7" r="2.0"/></g>
<g fill="#ff0000"><circle cx="467.2" cy="155.1" r="2.0"/><circle cx="469.9" cy="154.4" r="2.0"/><circle cx="473.2" cy="155.5" r="2.0"/><circle cx="476.2" cy="154.9" r="2.0"/><circle cx="479.6" cy="154.7" r="2.0"/><circle cx="481.9" cy="154.4" r="2.0"/><circle cx="485.2" cy="155.6" r="2.0"/><circle cx="489.4" cy="154.6" r="2.0"/><circle cx="492.4" cy="154.7" r="2.0"/><circle cx="494.8" cy="154.5" r="2.0"/><circle cx="467.1" cy="157.4" r="2.0"/><circle cx="469.4" cy="157.2" r="2.0"/><circle cx="473.1" cy="157.5" r="2.0"/><circle cx="476.9" cy="157.3" r="2.0"/><circle cx="478.7" cy="157.2" r="2.0"/><circle cx="482.0" cy="156.8" r="2.0"/><circle cx="485.3" cy="157.4" r="2.0"/><circle cx="488.3" cy="156.8" r="2.0"/><circle cx="492.0" cy="157.2" r="2.0"/><circle cx="495.6" cy="156.8" r="2.0"/><circle cx="481.2" cy="158.9" r="2.0"/><circle cx="481.4" cy="162.1" r="2.0"/><circle cx="481.1" cy="163.9" r="2.0"/><circle cx="481.7" cy="167.0" r="2.0"/><circle cx="480.8" cy="169.5" r="2.0"/><circle cx="481.1" cy="174.3" r="2.0"/><circle cx="481.5" cy="176.9" r="2.0"/><circle cx="481.1" cy="180.1" r="2.0"/><circle cx="480.7" cy="181.7" r="2.0"/><circle cx="480.9" cy="184.9" r="2.0"/><circle cx="481.5" cy="186.9" r="2.0"/><circle cx="481.4" cy="190.4" r="2.0"/><circle cx="477.5" cy="190.4" r="2.0"/><circle cx="481.3" cy="190.5" r="2.0"/><circle cx="483.6" cy="190.1" r="2.0"/><circle cx="476.9" cy="193.3" r="2.0"/><circle cx="480.6" cy="193.1" r="2.0"/><circle cx="484.7" cy="192.6" r="2.0"/><circle cx="477.2" cy="196.3" r="2.0"/><circle cx="479.0" cy="196.4" r="2.0"/><circle cx="482.0" cy="196.1" r="2.0"/><circle cx="485.7" cy="196.0" r="2.0"/><circle cx="475.9" cy="195.6" r="2.0"/><circle cx="478.8" cy="196.2" r="2.0"/><circle cx="482.8" cy="195.9" r="2.0"/><circle cx="485.7" cy="195.5" r="2.0"/><circle cx="474.7" cy="198.2" r="2.0"/><circle cx="478.3" cy="198.3" r="2.0"/><circle cx="480.8" cy="198.7" r="2.0"/><circle cx="483.4" cy="199.3" r="2.0"/><circle cx="487.1" cy="198.7" r="2.0"/><circle cx="474.4" cy="201.2" r="2.0"/><circle cx="477.2" cy="201.7" r="2.0"/><circle cx="479.2" cy="200.8" r="2.0"/><circle cx="482.0" cy="200.8" r="2.0"/><circle cx="485.3" cy="201.8" r="2.0"/><circle cx="488.7" cy="201.8" r="2.0"/><circle cx="473.2" cy="203.9" r="2.0"/><circle cx="476.9" cy="203.7" r="2.0"/><circle cx="479.6" cy="204.5" r="2.0"/><circle cx="482.4" cy="203.9" r="2.0"/><circle cx="486.4" cy="204.6" r="2.0"/><circle cx="488.3" cy="203.7" r="2.0"/><circle cx="472.7" cy="207.2" r="2.0"/><circle cx="474.5" cy="207.0" r="2.0"/><circle cx="478.2" cy="207.2" r="2.0"/><circle cx="480.5" cy="207.0" r="2.0"/><circle cx="484.2" cy="206.4" r="2.0"/><circle cx="487.3" cy="206.2" r="2.0"/><circle cx="489.5" cy="206.2" r="2.0"/><circle cx="470.8" cy="209.0" r="2.0"/><circle cx="474.3" cy="208.7" r="2.0"/><circle cx="476.4" cy="208.8" r="2.0"/><circle cx="479.2" cy="209.9" r="2.0"/><circle cx="482.9" cy="208.9" r="2.0"/><circle cx="484.6" cy="209.8" r="2.0"/><circle cx="488.2" cy="209.3" r="2.0"/><circle cx="491.2" cy="209.3" r="2.0"/><circle cx="469.8" cy="211.7" r="2.0"/><circle cx="473.7" cy="212.1" r="2.0"/><circle cx="476.9" cy="211.7" r="2.0"/><circle cx="479.0" cy="211.7" r="2.0"/><circle cx="482.3" cy="211.6" r="2.0"/><circle cx="485.3" cy="212.5" r="2.0"/><circle cx="489.3" cy="211.5" r="2.0"/><circle cx="491.9" cy="211.7" r="2.0"/><circle cx="480.9" cy="148.2" r="2.0"/><circle cx="481.1" cy="51.0" r="2.0"/></g>
<g fill="#0000ff"><circle cx="591.9" cy="149.7" r="2.0"/><circle cx="592.0" cy="153.1" r="2.0"/><circle cx="591.6" cy="154.5" r="2.0"/><circle cx="594.0" cy="154.5" r="2.0"/><circle cx="590.7" cy="155.6" r="2.0"/><circle cx="593.8" cy="154.8" r="2.0"/><circle cx="589.3" cy="157.9" r="2.0"/><circle cx="594.0" cy="157.4" r="2.0"/><circle cx="592.3" cy="159.6" r="2.0"/><circle cx="595.8" cy="160.3" r="2.0"/><circle cx="588.4" cy="159.5" r="2.0"/><circle cx="592.2" cy="159.7" r="2.0"/><circle cx="595.6" cy="160.2" r="2.0"/><circle cx="590.2" cy="161.8" r="2.0"/><circle cx="593.6" cy="162.6" r="2.0"/><circle cx="597.3" cy="162.1" r="2.0"/><circle cx="591.5" cy="165.2" r="2.0"/><circle cx="595.8" cy="164.4" r="2.0"/><circle cx="598.9" cy="164.5" r="2.0"/><circle cx="584.3" cy="167.1" r="2.0"/><circle cx="587.6" cy="166.9" r="2.0"/><circle cx="590.1" cy="167.3" r="2.0"/><circle cx="600.2" cy="166.9" r="2.0"/><circle cx="588.1" cy="167.5" r="2.0"/><circle cx="590.7" cy="167.0" r="2.0"/><circle cx="593.1" cy="167.6" r="2.0"/><circle cx="596.4" cy="166.5" r="2.0"/><circle cx="600.3" cy="166.4" r="2.0"/><circle cx="584.8" cy="169.1" r="2.0"/><circle cx="587.7" cy="169.6" r="2.0"/><circle cx="590.9" cy="169.0" r="2.0"/><circle cx="596.2" cy="169.0" r="2.0"/><circle cx="599.9" cy="169.2" r="2.0"/><circle cx="584.4" cy="171.6" r="2.0"/><circle cx="588.1" cy="171.6" r="2.0"/><circle cx="591.0" cy="171.6" r="2.0"/><circle cx="599.8" cy="172.4" r="2.0"/><circle cx="584.9" cy="172.5" r="2.0"/><circle cx="590.4" cy="171.8" r="2.0"/><circle cx="594.3" cy="172.4" r="2.0"/><circle cx="589.2" cy="175.0" r="2.0"/><circle cx="595.1" cy="174.7" r="2.0"/><circle cx="598.2" cy="174.0" r="2.0"/><circle cx="587.5" cy="176.4" r="2.0"/><circle cx="591.3" cy="177.3" r="2.0"/><circle cx="597.3" cy="177.5" r="2.0"/><circle cx="591.0" cy="176.7" r="2.0"/><circle cx="593.3" cy="177.1" r="2.0"/><circle cx="588.2" cy="179.5" r="2.0"/><circle cx="592.8" cy="179.2" r="2.0"/><circle cx="596.1" cy="179.0" r="2.0"/><circle cx="589.6" cy="182.0" r="2.0"/><circle cx="592.2" cy="182.0" r="2.0"/><circle cx="594.9" cy="181.6" r="2.0"/><circle cx="587.9" cy="181.7" r="2.0"/><circle cx="590.2" cy="182.1" r="2.0"/><circle cx="596.5" cy="182.2" r="2.0"/><circle cx="588.5" cy="184.5" r="2.0"/><circle cx="591.0" cy="184.5" r="2.0"/><circle cx="593.2" cy="184.2" r="2.0"/><circle cx="596.1" cy="184.7" r="2.0"/><circle cx="588.1" cy="187.5" r="2.0"/><circle cx="591.0" cy="187.1" r="2.0"/><circle cx="594.2" cy="186.9" r="2.0"/><circle cx="587.9" cy="190.1" r="2.0"/><circle cx="591.6" cy="189.5" r="2.0"/><circle cx="596.2" cy="189.2" r="2.0"/><circle cx="589.3" cy="192.5" r="2.0"/><circle cx="592.0" cy="192.0" r="2.0"/><circle cx="595.9" cy="192.6" r="2.0"/><circle cx="592.5" cy="195.1" r="2.0"/><circle cx="589.4" cy="197.6" r="2.0"/><circle cx="595.9" cy="196.7" r="2.0"/><circle cx="592.2" cy="200.4" r="2.0"/><circle cx="595.1" cy="200.2" r="2.0"/><circle cx="592.0" cy="202.4" r="2.0"/><circle cx="595.4" cy="202.2" r="2.0"/><circle cx="589.6" cy="204.9" r="2.0"/><circle cx="592.6" cy="205.4" r="2.0"/><circle cx="594.8" cy="204.6" r="2.0"/><circle cx="588.5" cy="205.1" r="2.0"/><circle cx="591.6" cy="205.5" r="2.0"/><circle cx="595.9" cy="205.4" r="2.0"/><circle cx="590.6" cy="207.7" r="2.0"/><circle cx="593.1" cy="207.3" r="2.0"/><circle cx="597.3" cy="207.6" r="2.0"/><circle cx="587.0" cy="209.5" r="2.0"/><circle cx="589.5" cy="209.3" r="2.0"/><circle cx="592.3" cy="209.3" r="2.0"/><circle cx="598.1" cy="209.0" r="2.0"/><circle cx="584.9" cy="211.8" r="2.0"/><circle cx="588.4" cy="212.3" r="2.0"/><circle cx="590.7" cy="211.8" r="2.0"/><circle cx="596.6" cy="212.1" r="2.0"/><circle cx="599.1" cy="212.3" r="2.0"/><circle cx="580.0" cy="207.5" r="2.0"/><circle cx="583.3" cy="208.4" r="2.0"/><circle cx="586.6" cy="207.9" r="2.0"/><circle cx="588.9" cy="208.0" r="2.0"/><circle cx="591.8" cy="207.6" r="2.0"/><circle cx="595.4" cy="207.8" r="2.0"/><circle cx="598.5" cy="207.5" r="2.0"/><circle cx="601.8" cy="207.8" r="2.0"/><circle cx="603.7" cy="207.8" r="2.0"/><circle cx="580.1" cy="211.9" r="2.0"/><circle cx="583.0" cy="211.8" r="2.0"/><circle cx="586.3" cy="211.7" r="2.0"/><circle cx="589.3" cy="211.6" r="2.0"/><circle cx="591.7" cy="212.0" r="2.0"/><circle cx="594.7" cy="211.3" r="2.0"/><circle cx="598.8" cy="211.8" r="2.0"/><circle cx="600.7" cy="211.1" r="2.0"/><circle cx="604.2" cy="212.0" r="2.0"/><circle cx="592.1" cy="147.3" r="2.0"/></g>
<g fill="#ff0000"><circle cx="640.7" cy="151.7" r="2.0"/><circle cx="641.8" cy="154.1" r="2.0"/><circle cx="639.9" cy="155.9" r="2.0"/><circle cx="642.9" cy="156.1" r="2.0"/><circle cx="643.1" cy="155.7" r="2.0"/><circle cx="639.6" cy="158.9" r="2.0"/><circle cx="644.0" cy="158.9" r="2.0"/><circle cx="638.6" cy="161.6" r="2.0"/><circle cx="641.8" cy="160.7" r="2.0"/><circle cx="644.2" cy="160.7" r="2.0"/><circle cx="638.5" cy="161.0" r="2.0"/><circle cx="640.8" cy="160.6" r="2.0"/><circle cx="644.0" cy="161.6" r="2.0"/><circle cx="637.6" cy="162.9" r="2.0"/><circle cx="641.0" cy="163.2" r="2.0"/><circle cx="644.4" cy="163.7" r="2.0"/><circle cx="636.6" cy="165.3" r="2.0"/><circle cx="639.4" cy="165.1" r="2.0"/><circle cx="642.4" cy="165.3" r="2.0"/><circle cx="644.8" cy="165.4" r="2.0"/><circle cx="639.6" cy="168.4" r="2.0"/><circle cx="645.7" cy="168.3" r="2.0"/><circle cx="637.1" cy="167.6" r="2.0"/><circle cx="642.4" cy="167.9" r="2.0"/><circle cx="646.2" cy="167.7" r="2.0"/><circle cx="639.6" cy="170.7" r="2.0"/><circle cx="642.2" cy="171.4" r="2.0"/><circle cx="645.4" cy="171.1" r="2.0"/><circle cx="637.9" cy="173.9" r="2.0"/><circle cx="641.3" cy="173.8" r="2.0"/><circle cx="644.3" cy="173.6" r="2.0"/><circle cx="641.4" cy="173.5" r="2.0"/><circle cx="643.7" cy="174.0" r="2.0"/><circle cx="638.0" cy="176.1" r="2.0"/><circle cx="640.7" cy="176.6" r="2.0"/><circle cx="643.7" cy="176.8" r="2.0"/><circle cx="639.2" cy="179.1" r="2.0"/><circle cx="640.9" cy="178.1" r="2.0"/><circle cx="644.0" cy="178.5" r="2.0"/><circle cx="639.0" cy="181.2" r="2.0"/><circle cx="641.7" cy="180.8" r="2.0"/><circle cx="643.2" cy="180.5" r="2.0"/><circle cx="641.5" cy="182.8" r="2.0"/><circle cx="643.1" cy="183.0" r="2.0"/><circle cx="638.7" cy="185.1" r="2.0"/><circle cx="641.4" cy="185.3" r="2.0"/><circle cx="639.3" cy="187.7" r="2.0"/><circle cx="643.7" cy="187.8" r="2.0"/><circle cx="640.5" cy="188.3" r="2.0"/><circle cx="641.8" cy="188.4" r="2.0"/><circle cx="639.4" cy="190.4" r="2.0"/><circle cx="642.8" cy="190.3" r="2.0"/><circle cx="641.8" cy="193.6" r="2.0"/><circle cx="640.3" cy="196.4" r="2.0"/><circle cx="641.8" cy="196.5" r="2.0"/><circle cx="640.6" cy="198.9" r="2.0"/><circle cx="642.9" cy="198.8" r="2.0"/><circle cx="639.4" cy="201.6" r="2.0"/><circle cx="642.4" cy="201.8" r="2.0"/><circle cx="640.4" cy="203.5" r="2.0"/><circle cx="642.8" cy="203.7" r="2.0"/><circle cx="639.2" cy="204.2" r="2.0"/><circle cx="640.8" cy="203.5" r="2.0"/><circle cx="643.8" cy="203.6" r="2.0"/><circle cx="638.0" cy="206.8" r="2.0"/><circle cx="640.8" cy="206.3" r="2.0"/><circle cx="643.8" cy="207.1" r="2.0"/><circle cx="638.2" cy="209.6" r="2.0"/><circle cx="641.3" cy="208.9" r="2.0"/><circle cx="644.0" cy="209.4" r="2.0"/><circle cx="638.7" cy="211.8" r="2.0"/><circle cx="641.6" cy="212.1" r="2.0"/><circle cx="643.6" cy="211.5" r="2.0"/><circle cx="627.9" cy="207.7" r="2.0"/><circle cx="632.0" cy="207.9" r="2.0"/><circle cx="634.6" cy="208.0" r="2.0"/><circle cx="637.6" cy="207.5" r="2.0"/><circle cx="641.9" cy="208.3" r="2.0"/><circle cx="644.7" cy="208.6" r="2.0"/><circle cx="647.0" cy="208.0" r="2.0"/><circle cx="650.3" cy="208.1" r="2.0"/><circle cx="654.5" cy="208.2" r="2.0"/><circle cx="629.1" cy="211.9" r="2.0"/><circle cx="631.3" cy="211.3" r="2.0"/><circle cx="635.2" cy="212.1" r="2.0"/><circle cx="637.6" cy="211.9" r="2.0"/><circle cx="641.8" cy="211.3" r="2.0"/><circle cx="644.8" cy="212.0" r="2.0"/><circle cx="647.1" cy="212.1" r="2.0"/><circle cx="650.5" cy="211.8" r="2.0"/><circle cx="654.4" cy="211.4" r="2.0"/><circle cx="641.6" cy="72.8" r="2.0"/><circle cx="641.4" cy="141.9" r="2.0"/></g>
<g fill="#0000ff"><circle cx="98.8" cy="396.2" r="2.0"/><circle cx="101.4" cy="396.5" r="2.0"/><circle cx="98.4" cy="399.0" r="2.0"/><circle cx="101.1" cy="399.1" r="2.0"/><circle cx="98.5" cy="401.6" r="2.0"/><circle cx="102.3" cy="401.5" r="2.0"/><circle cx="96.6" cy="401.6" r="2.0"/><circle cx="99.2" cy="402.4" r="2.0"/><circle cx="103.5" cy="401.9" r="2.0"/><circle cx="95.9" cy="404.0" r="2.0"/><circle cx="98.3" cy="403.9" r="2.0"/><circle cx="101.8" cy="404.5" r="2.0"/><circle cx="103.8" cy="403.9" r="2.0"/><circle cx="94.5" cy="405.6" r="2.0"/><circle cx="97.9" cy="406.0" r="2.0"/><circle cx="102.2" cy="406.4" r="2.0"/><circle cx="105.7" cy="406.1" r="2.0"/><circle cx="86.1" cy="407.2" r="2.0"/><circle cx="89.3" cy="407.1" r="2.0"/><circle cx="92.5" cy="407.2" r="2.0"/><circle cx="95.3" cy="407.5" r="2.0"/><circle cx="98.0" cy="407.2" r="2.0"/><circle cx="100.8" cy="407.2" r="2.0"/><circle cx="104.4" cy="406.9" r="2.0"/><circle cx="107.3" cy="406.9" r="2.0"/><circle cx="109.7" cy="407.5" r="2.0"/><circle cx="112.6" cy="407.4" r="2.0"/><circle cx="86.1" cy="409.4" r="2.0"/><circle cx="89.6" cy="409.5" r="2.0"/><circle cx="92.7" cy="408.9" r="2.0"/><circle cx="95.6" cy="408.9" r="2.0"/><circle cx="97.8" cy="409.3" r="2.0"/><circle cx="101.4" cy="409.7" r="2.0"/><circle cx="103.8" cy="410.0" r="2.0"/><circle cx="106.7" cy="409.8" r="2.0"/><circle cx="109.7" cy="410.0" r="2.0"/><circle cx="113.5" cy="409.0" r="2.0"/><circle cx="86.1" cy="411.5" r="2.0"/><circle cx="89.0" cy="411.9" r="2.0"/><circle cx="92.3" cy="412.0" r="2.0"/><circle cx="96.0" cy="411.9" r="2.0"/><circle cx="98.5" cy="412.3" r="2.0"/><circle cx="100.9" cy="412.1" r="2.0"/><circle cx="104.7" cy="412.0" r="2.0"/><circle cx="106.7" cy="411.6" r="2.0"/><circle cx="110.8" cy="412.1" r="2.0"/><circle cx="113.2" cy="411.3" r="2.0"/><circle cx="87.1" cy="413.7" r="2.0"/><circle cx="89.9" cy="413.9" r="2.0"/><circle cx="92.5" cy="414.6" r="2.0"/><circle cx="95.0" cy="413.6" r="2.0"/><circle cx="98.9" cy="413.8" r="2.0"/><circle cx="101.1" cy="414.4" r="2.0"/><circle cx="103.8" cy="414.7" r="2.0"/><circle cx="107.5" cy="414.6" r="2.0"/><circle cx="109.5" cy="414.0" r="2.0"/><circle cx="113.1" cy="414.6" r="2.0"/><circle cx="86.0" cy="416.2" r="2.0"/><circle cx="89.9" cy="416.5" r="2.0"/><circle cx="92.1" cy="417.0" r="2.0"/><circle cx="96.0" cy="416.7" r="2.0"/><circle cx="98.2" cy="416.3" r="2.0"/><circle cx="101.5" cy="416.1" r="2.0"/><circle cx="104.1" cy="416.6" r="2.0"/><circle cx="107.1" cy="416.4" r="2.0"/><circle cx="110.3" cy="416.4" r="2.0"/><circle cx="113.0" cy="417.2" r="2.0"/><circle cx="86.2" cy="419.2" r="2.0"/><circle cx="89.3" cy="419.0" r="2.0"/><circle cx="92.7" cy="419.0" r="2.0"/><circle cx="96.2" cy="418.4" r="2.0"/><circle cx="98.8" cy="419.4" r="2.0"/><circle cx="101.6" cy="419.2" r="2.0"/><circle cx="104.0" cy="419.4" r="2.0"/><circle cx="107.8" cy="419.2" r="2.0"/><circle cx="110.5" cy="419.3" r="2.0"/><circle cx="113.3" cy="418.8" r="2.0"/><circle cx="95.6" cy="418.5" r="2.0"/><circle cx="98.3" cy="419.6" r="2.0"/><circle cx="101.1" cy="418.7" r="2.0"/><circle cx="103.9" cy="418.6" r="2.0"/><circle cx="96.7" cy="421.4" r="2.0"/><circle cx="100.0" cy="421.3" r="2.0"/><circle cx="103.0" cy="421.3" r="2.0"/><circle cx="97.0" cy="424.1" r="2.0"/><circle cx="99.7" cy="424.5" r="2.0"/><circle cx="102.5" cy="423.6" r="2.0"/><circle cx="98.9" cy="423.8" r="2.0"/><circle cx="101.5" cy="424.4" r="2.0"/><circle cx="98.3" cy="427.1" r="2.0"/><circle cx="101.1" cy="426.0" r="2.0"/><circle cx="98.2" cy="429.5" r="2.0"/><circle cx="101.1" cy="428.9" r="2.0"/><circle cx="99.2" cy="432.0" r="2.0"/><circle cx="101.4" cy="432.4" r="2.0"/><circle cx="98.3" cy="434.9" r="2.0"/><circle cx="98.5" cy="436.7" r="2.0"/><circle cx="101.3" cy="437.3" r="2.0"/><circle cx="99.7" cy="442.7" r="2.0"/><circle cx="99.8" cy="445.2" r="2.0"/><circle cx="99.3" cy="447.5" r="2.0"/><circle cx="99.9" cy="302.3" r="2.0"/><circle cx="100.7" cy="350.2" r="2.0"/><circle cx="99.0" cy="352.8" r="2.0"/><circle cx="99.8" cy="363.4" r="2.0"/><circle cx="100.1" cy="379.2" r="2.0"/><circle cx="99.6" cy="383.0" r="2.0"/><circle cx="99.6" cy="388.2" r="2.0"/><circle cx="100.1" cy="391.6" r="2.0"/><circle cx="99.6" cy="393.9" r="2.0"/><circle cx="99.0" cy="397.9" r="2.0"/><circle cx="101.9" cy="397.9" r="2.0"/></g>
<g fill="#ff0000"><circle cx="148.9" cy="387.8" r="2.0"/><circle cx="151.2" cy="387.7" r="2.0"/><circle cx="147.9" cy="390.9" r="2.0"/><circle cx="151.9" cy="389.9" r="2.0"/><circle cx="148.9" cy="392.7" r="2.0"/><circle cx="150.8" cy="392.4" r="2.0"/><circle cx="147.9" cy="395.7" r="2.0"/><circle cx="151.4" cy="395.4" r="2.0"/><circle cx="148.6" cy="397.8" r="2.0"/><circle cx="151.7" cy="397.4" r="2.0"/><circle cx="148.7" cy="400.5" r="2.0"/><circle cx="151.8" cy="400.7" r="2.0"/><circle cx="148.0" cy="402.6" r="2.0"/><circle cx="147.5" cy="405.0" r="2.0"/><circle cx="152.0" cy="404.8" r="2.0"/><circle cx="145.3" cy="405.3" r="2.0"/><circle cx="147.8" cy="404.6" r="2.0"/><circle cx="151.3" cy="405.1" r="2.0"/><circle cx="154.7" cy="404.8" r="2.0"/><circle cx="143.7" cy="407.3" r="2.0"/><circle cx="146.6" cy="406.4" r="2.0"/><circle cx="149.5" cy="407.6" r="2.0"/><circle cx="152.9" cy="406.8" r="2.0"/><circle cx="155.5" cy="406.8" r="2.0"/><circle cx="142.2" cy="409.3" r="2.0"/><circle cx="145.8" cy="408.9" r="2.0"/><circle cx="147.8" cy="409.1" r="2.0"/><circle cx="151.9" cy="409.5" r="2.0"/><circle cx="153.8" cy="408.7" r="2.0"/><circle cx="157.0" cy="408.7" r="2.0"/><circle cx="137.1" cy="409.2" r="2.0"/><circle cx="140.3" cy="408.7" r="2.0"/><circle cx="142.1" cy="409.4" r="2.0"/><circle cx="145.2" cy="409.3" r="2.0"/><circle cx="148.1" cy="408.8" r="2.0"/><circle cx="151.9" cy="408.6" r="2.0"/><circle cx="154.4" cy="408.9" r="2.0"/><circle cx="157.8" cy="408.7" r="2.0"/><circle cx="160.0" cy="409.3" r="2.0"/><circle cx="162.7" cy="409.4" r="2.0"/><circle cx="136.4" cy="411.2" r="2.0"/><circle cx="140.3" cy="411.2" r="2.0"/><circle cx="142.1" cy="412.0" r="2.0"/><circle cx="145.0" cy="412.0" r="2.0"/><circle cx="148.2" cy="412.3" r="2.0"/><circle cx="151.9" cy="412.3" r="2.0"/><circle cx="153.9" cy="412.1" r="2.0"/><circle cx="156.6" cy="411.8" r="2.0"/><circle cx="160.1" cy="411.3" r="2.0"/><circle cx="163.8" cy="411.5" r="2.0"/><circle cx="136.2" cy="414.5" r="2.0"/><circle cx="139.5" cy="414.1" r="2.0"/><circle cx="142.1" cy="414.8" r="2.0"/><circle cx="145.0" cy="414.3" r="2.0"/><circle cx="149.0" cy="414.3" r="2.0"/><circle cx="152.0" cy="415.0" r="2.0"/><circle cx="154.0" cy="414.1" r="2.0"/><circle cx="156.6" cy="414.0" r="2.0"/><circle cx="160.0" cy="414.6" r="2.0"/><circle cx="162.4" cy="414.7" r="2.0"/><circle cx="136.8" cy="417.3" r="2.0"/><circle cx="140.3" cy="417.7" r="2.0"/><circle cx="142.4" cy="417.0" r="2.0"/><circle cx="146.2" cy="417.1" r="2.0"/><circle cx="148.3" cy="416.8" r="2.0"/><circle cx="150.7" cy="417.4" r="2.0"/><circle cx="154.0" cy="417.4" r="2.0"/><circle cx="156.9" cy="416.9" r="2.0"/><circle cx="160.6" cy="417.6" r="2.0"/><circle cx="162.5" cy="417.5" r="2.0"/><circle cx="136.9" cy="420.1" r="2.0"/><circle cx="140.3" cy="419.4" r="2.0"/><circle cx="143.1" cy="420.0" r="2.0"/><circle cx="146.2" cy="419.7" r="2.0"/><circle cx="148.8" cy="419.9" r="2.0"/><circle cx="151.2" cy="420.0" r="2.0"/><circle cx="154.5" cy="419.8" r="2.0"/><circle cx="157.3" cy="419.7" r="2.0"/><circle cx="159.8" cy="420.5" r="2.0"/><circle cx="163.4" cy="420.0" r="2.0"/><circle cx="143.3" cy="419.6" r="2.0"/><circle cx="149.9" cy="420.0" r="2.0"/><circle cx="152.6" cy="419.6" r="2.0"/><circle cx="156.0" cy="420.2" r="2.0"/><circle cx="145.3" cy="422.4" r="2.0"/><circle cx="148.0" cy="422.4" r="2.0"/><circle cx="151.1" cy="421.6" r="2.0"/><circle cx="154.5" cy="421.8" r="2.0"/><circle cx="145.7" cy="423.9" r="2.0"/><circle cx="148.4" cy="424.6" r="2.0"/><circle cx="151.2" cy="424.0" r="2.0"/><circle cx="154.5" cy="423.6" r="2.0"/><circle cx="152.1" cy="423.7" r="2.0"/><circle cx="147.6" cy="426.5" r="2.0"/><circle cx="151.5" cy="426.7" r="2.0"/><circle cx="147.6" cy="429.5" r="2.0"/><circle cx="151.5" cy="428.9" r="2.0"/><circle cx="151.8" cy="432.3" r="2.0"/><circle cx="148.3" cy="434.8" r="2.0"/><circle cx="147.9" cy="437.0" r="2.0"/><circle cx="151.6" cy="436.9" r="2.0"/><circle cx="148.9" cy="440.1" r="2.0"/><circle cx="150.9" cy="439.8" r="2.0"/><circle cx="151.6" cy="442.6" r="2.0"/><circle cx="149.3" cy="444.8" r="2.0"/><circle cx="151.1" cy="444.8" r="2.0"/><circle cx="149.9" cy="448.1" r="2.0"/><circle cx="149.9" cy="288.2" r="2.0"/><circle cx="149.6" cy="361.8" r="2.0"/></g>
<g fill="#0000ff"><circle cx="259.1" cy="395.1" r="2.0"/><circle cx="263.2" cy="395.4" r="2.0"/><circle cx="266.7" cy="395.5" r="2.0"/><circle cx="270.2" cy="395.0" r="2.0"/><circle cx="262.5" cy="397.4" r="2.0"/><circle cx="265.3" cy="397.6" r="2.0"/><circle cx="268.2" cy="397.0" r="2.0"/><circle cx="270.1" cy="397.9" r="2.0"/><circle cx="258.2" cy="400.3" r="2.0"/><circle cx="261.3" cy="400.2" r="2.0"/><circle cx="265.0" cy="399.5" r="2.0"/><circle cx="268.0" cy="400.1" r="2.0"/><circle cx="263.1" cy="400.0" r="2.0"/><circle cx="267.3" cy="399.7" r="2.0"/><circle cx="269.7" cy="399.7" r="2.0"/><circle cx="256.0" cy="402.6" r="2.0"/><circle cx="258.7" cy="403.1" r="2.0"/><circle cx="267.6" cy="402.1" r="2.0"/><circle cx="270.8" cy="402.6" r="2.0"/><circle cx="274.2" cy="402.5" r="2.0"/><circle cx="258.5" cy="405.4" r="2.0"/><circle cx="260.5" cy="405.4" r="2.0"/><circle cx="263.7" cy="405.1" r="2.0"/><circle cx="266.8" cy="405.1" r="2.0"/><circle cx="269.7" cy="405.4" r="2.0"/><circle cx="272.7" cy="405.3" r="2.0"/><circle cx="254.2" cy="408.2" r="2.0"/><circle cx="257.9" cy="407.5" r="2.0"/><circle cx="260.0" cy="408.5" r="2.0"/><circle cx="263.9" cy="408.0" r="2.0"/><circle cx="266.8" cy="407.8" r="2.0"/><circle cx="270.1" cy="407.6" r="2.0"/><circle cx="275.1" cy="407.5" r="2.0"/><circle cx="259.1" cy="407.7" r="2.0"/><circle cx="264.5" cy="407.5" r="2.0"/><circle cx="267.4" cy="408.4" r="2.0"/><circle cx="270.7" cy="408.1" r="2.0"/><circle cx="274.2" cy="407.6" r="2.0"/><circle cx="253.3" cy="410.1" r="2.0"/><circle cx="261.3" cy="410.4" r="2.0"/><circle cx="264.6" cy="410.6" r="2.0"/><circle cx="268.0" cy="410.8" r="2.0"/><circle cx="271.4" cy="410.0" r="2.0"/><circle cx="277.8" cy="411.1" r="2.0"/><circle cx="255.6" cy="412.8" r="2.0"/><circle cx="262.6" cy="412.5" r="2.0"/><circle cx="265.5" cy="413.1" r="2.0"/><circle cx="267.5" cy="412.6" r="2.0"/><circle cx="271.7" cy="413.4" r="2.0"/><circle cx="274.7" cy="412.4" r="2.0"/><circle cx="277.9" cy="412.8" r="2.0"/><circle cx="258.6" cy="412.8" r="2.0"/><circle cx="261.7" cy="413.3" r="2.0"/><circle cx="265.4" cy="412.8" r="2.0"/><circle cx="268.0" cy="412.5" r="2.0"/><circle cx="271.2" cy="413.1" r="2.0"/><circle cx="273.0" cy="413.0" r="2.0"/><circle cx="257.0" cy="414.9" r="2.0"/><circle cx="259.9" cy="415.2" r="2.0"/><circle cx="262.9" cy="414.9" r="2.0"/><circle cx="270.4" cy="415.8" r="2.0"/><circle cx="272.7" cy="414.8" r="2.0"/><circle cx="260.4" cy="417.7" r="2.0"/><circle cx="263.4" cy="417.3" r="2.0"/><circle cx="266.5" cy="417.5" r="2.0"/><circle cx="269.5" cy="417.3" r="2.0"/><circle cx="272.3" cy="418.1" r="2.0"/><circle cx="258.3" cy="419.4" r="2.0"/><circle cx="264.0" cy="420.1" r="2.0"/><circle cx="266.1" cy="420.3" r="2.0"/><circle cx="269.0" cy="419.4" r="2.0"/><circle cx="272.2" cy="419.8" r="2.0"/><circle cx="265.1" cy="419.7" r="2.0"/><circle cx="269.1" cy="420.3" r="2.0"/><circle cx="261.7" cy="422.6" r="2.0"/><circle cx="268.1" cy="422.7" r="2.0"/><circle cx="267.6" cy="425.0" r="2.0"/><circle cx="265.6" cy="427.6" r="2.0"/><circle cx="264.4" cy="430.2" r="2.0"/><circle cx="261.6" cy="435.6" r="2.0"/><circle cx="264.6" cy="435.8" r="2.0"/><circle cx="263.4" cy="438.4" r="2.0"/><circle cx="267.2" cy="438.7" r="2.0"/><circle cx="269.4" cy="438.6" r="2.0"/><circle cx="259.0" cy="440.4" r="2.0"/><circle cx="261.6" cy="440.5" r="2.0"/><circle cx="268.5" cy="440.4" r="2.0"/><circle cx="272.0" cy="441.4" r="2.0"/><circle cx="257.5" cy="443.7" r="2.0"/><circle cx="260.1" cy="443.7" r="2.0"/><circle cx="263.9" cy="443.1" r="2.0"/><circle cx="270.4" cy="442.9" r="2.0"/><circle cx="255.1" cy="446.2" r="2.0"/><circle cx="258.2" cy="445.7" r="2.0"/><circle cx="261.8" cy="446.2" r="2.0"/><circle cx="265.3" cy="445.6" r="2.0"/><circle cx="268.6" cy="446.0" r="2.0"/><circle cx="271.9" cy="445.6" r="2.0"/><circle cx="274.8" cy="446.2" r="2.0"/><circle cx="253.9" cy="448.6" r="2.0"/><circle cx="256.3" cy="448.2" r="2.0"/><circle cx="259.7" cy="448.6" r="2.0"/><circle cx="263.5" cy="448.1" r="2.0"/><circle cx="266.2" cy="448.0" r="2.0"/><circle cx="270.0" cy="448.0" r="2.0"/><circle cx="272.7" cy="448.4" r="2.0"/><circle cx="276.4" cy="448.6" r="2.0"/><circle cx="265.1" cy="326.7" r="2.0"/><circle cx="265.5" cy="356.3" r="2.0"/><circle cx="264.3" cy="358.6" r="2.0"/><circle cx="265.5" cy="360.6" r="2.0"/><circle cx="262.8" cy="365.0" r="2.0"/><circle cx="267.1" cy="364.7" r="2.0"/><circle cx="264.3" cy="374.2" r="2.0"/><circle cx="262.8" cy="378.2" r="2.0"/><circle cx="266.9" cy="378.8" r="2.0"/><circle cx="263.4" cy="381.6" r="2.0"/><circle cx="267.4" cy="382.8" r="2.0"/><circle cx="262.8" cy="384.5" r="2.0"/><circle cx="266.9" cy="386.8" r="2.0"/><circle cx="262.3" cy="389.7" r="2.0"/><circle cx="265.1" cy="390.9" r="2.0"/><circle cx="261.1" cy="393.2" r="2.0"/><circle cx="266.9" cy="393.7" r="2.0"/></g>
<g fill="#ff0000"><circle cx="310.1" cy="396.4" r="2.0"/><circle cx="315.1" cy="397.5" r="2.0"/><circle cx="317.8" cy="397.5" r="2.0"/><circle cx="308.4" cy="399.9" r="2.0"/><circle cx="311.5" cy="400.0" r="2.0"/><circle cx="317.6" cy="399.6" r="2.0"/><circle cx="319.5" cy="399.6" r="2.0"/><circle cx="307.1" cy="399.7" r="2.0"/><circle cx="309.1" cy="400.1" r="2.0"/><circle cx="315.3" cy="400.5" r="2.0"/><circle cx="320.7" cy="400.1" r="2.0"/><circle cx="324.8" cy="399.8" r="2.0"/><circle cx="303.7" cy="402.4" r="2.0"/><circle cx="306.8" cy="403.0" r="2.0"/><circle cx="309.3" cy="403.1" r="2.0"/><circle cx="313.0" cy="402.7" r="2.0"/><circle cx="315.4" cy="402.8" r="2.0"/><circle cx="321.8" cy="401.9" r="2.0"/><circle cx="323.9" cy="403.0" r="2.0"/><circle cx="306.5" cy="405.1" r="2.0"/><circle cx="309.3" cy="405.3" r="2.0"/><circle cx="312.2" cy="405.3" r="2.0"/><circle cx="315.6" cy="404.9" r="2.0"/><circle cx="322.1" cy="405.2" r="2.0"/><circle cx="325.3" cy="405.3" r="2.0"/><circle cx="302.7" cy="407.1" r="2.0"/><circle cx="306.6" cy="407.9" r="2.0"/><circle cx="308.8" cy="407.5" r="2.0"/><circle cx="315.9" cy="407.1" r="2.0"/><circle cx="318.1" cy="407.3" r="2.0"/><circle cx="322.5" cy="408.1" r="2.0"/><circle cx="324.7" cy="408.0" r="2.0"/><circle cx="302.5" cy="409.9" r="2.0"/><circle cx="305.7" cy="409.9" r="2.0"/><circle cx="309.8" cy="409.7" r="2.0"/><circle cx="313.0" cy="409.9" r="2.0"/><circle cx="319.2" cy="409.8" r="2.0"/><circle cx="322.4" cy="410.0" r="2.0"/><circle cx="325.4" cy="410.3" r="2.0"/><circle cx="303.1" cy="410.5" r="2.0"/><circle cx="306.1" cy="410.2" r="2.0"/><circle cx="309.8" cy="409.4" r="2.0"/><circle cx="315.3" cy="410.5" r="2.0"/><circle cx="318.2" cy="409.5" r="2.0"/><circle cx="322.0" cy="410.2" r="2.0"/><circle cx="325.1" cy="409.5" r="2.0"/><circle cx="303.9" cy="413.1" r="2.0"/><circle cx="306.9" cy="412.8" r="2.0"/><circle cx="310.2" cy="412.8" r="2.0"/><circle cx="312.4" cy="412.9" r="2.0"/><circle cx="315.0" cy="412.9" r="2.0"/><circle cx="318.5" cy="412.7" r="2.0"/><circle cx="324.1" cy="412.0" r="2.0"/><circle cx="304.1" cy="415.4" r="2.0"/><circle cx="307.0" cy="414.9" r="2.0"/><circle cx="309.4" cy="415.4" r="2.0"/><circle cx="318.5" cy="415.3" r="2.0"/><circle cx="321.7" cy="415.5" r="2.0"/><circle cx="324.4" cy="415.2" r="2.0"/><circle cx="307.9" cy="417.7" r="2.0"/><circle cx="310.5" cy="417.0" r="2.0"/><circle cx="314.5" cy="417.2" r="2.0"/><circle cx="316.8" cy="417.0" r="2.0"/><circle cx="321.0" cy="417.9" r="2.0"/><circle cx="323.9" cy="417.0" r="2.0"/><circle cx="307.2" cy="420.2" r="2.0"/><circle cx="310.6" cy="419.5" r="2.0"/><circle cx="314.1" cy="420.4" r="2.0"/><circle cx="317.5" cy="419.5" r="2.0"/><circle cx="320.3" cy="419.8" r="2.0"/><circle cx="323.3" cy="419.7" r="2.0"/><circle cx="314.5" cy="420.4" r="2.0"/><circle cx="316.0" cy="420.3" r="2.0"/><circle cx="311.3" cy="422.6" r="2.0"/><circle cx="314.2" cy="422.9" r="2.0"/><circle cx="316.6" cy="422.7" r="2.0"/><circle cx="310.9" cy="425.8" r="2.0"/><circle cx="314.7" cy="427.5" r="2.0"/><circle cx="316.2" cy="427.9" r="2.0"/><circle cx="313.1" cy="427.9" r="2.0"/><circle cx="314.8" cy="427.9" r="2.0"/><circle cx="312.4" cy="430.5" r="2.0"/><circle cx="315.1" cy="429.9" r="2.0"/><circle cx="314.9" cy="432.6" r="2.0"/><circle cx="308.1" cy="438.3" r="2.0"/><circle cx="310.5" cy="437.4" r="2.0"/><circle cx="314.3" cy="438.2" r="2.0"/><circle cx="316.9" cy="437.6" r="2.0"/><circle cx="320.9" cy="437.8" r="2.0"/><circle cx="305.7" cy="440.4" r="2.0"/><circle cx="309.7" cy="440.5" r="2.0"/><circle cx="311.9" cy="440.1" r="2.0"/><circle cx="315.5" cy="441.1" r="2.0"/><circle cx="319.1" cy="440.5" r="2.0"/><circle cx="321.3" cy="440.1" r="2.0"/><circle cx="304.6" cy="442.8" r="2.0"/><circle cx="307.0" cy="443.6" r="2.0"/><circle cx="311.5" cy="443.7" r="2.0"/><circle cx="314.3" cy="443.0" r="2.0"/><circle cx="317.6" cy="442.7" r="2.0"/><circle cx="319.9" cy="443.2" r="2.0"/><circle cx="322.8" cy="443.5" r="2.0"/><circle cx="302.9" cy="445.1" r="2.0"/><circle cx="306.1" cy="445.1" r="2.0"/><circle cx="309.4" cy="446.1" r="2.0"/><circle cx="312.6" cy="445.3" r="2.0"/><circle cx="316.2" cy="445.5" r="2.0"/><circle cx="318.9" cy="445.2" r="2.0"/><circle cx="321.8" cy="445.8" r="2.0"/><circle cx="325.4" cy="445.6" r="2.0"/><circle cx="301.6" cy="447.7" r="2.0"/><circle cx="304.3" cy="448.4" r="2.0"/><circle cx="307.3" cy="448.4" r="2.0"/><circle cx="310.8" cy="447.8" r="2.0"/><circle cx="314.1" cy="447.7" r="2.0"/><circle cx="317.9" cy="447.9" r="2.0"/><circle cx="320.8" cy="448.6" r="2.0"/><circle cx="323.9" cy="447.6" r="2.0"/><circle cx="327.4" cy="448.6" r="2.0"/><circle cx="314.3" cy="310.3" r="2.0"/><circle cx="314.3" cy="320.9" r="2.0"/><circle cx="314.3" cy="353.5" r="2.0"/><circle cx="314.3" cy="360.1" r="2.0"/><circle cx="313.4" cy="367.8" r="2.0"/><circle cx="316.0" cy="367.8" r="2.0"/><circle cx="312.8" cy="375.7" r="2.0"/><circle cx="315.6" cy="375.1" r="2.0"/><circle cx="312.6" cy="382.6" r="2.0"/><circle cx="316.0" cy="385.2" r="2.0"/><circle cx="309.7" cy="388.9" r="2.0"/><circle cx="318.5" cy="388.3" r="2.0"/><circle cx="312.8" cy="390.8" r="2.0"/><circle cx="311.0" cy="394.6" r="2.0"/><circle cx="317.8" cy="395.8" r="2.0"/><circle cx="314.7" cy="393.3" r="2.0"/></g>
<g fill="#0000ff"><circle cx="429.8" cy="411.7" r="2.0"/><circle cx="436.2" cy="412.5" r="2.0"/><circle cx="439.4" cy="411.7" r="2.0"/><circle cx="428.2" cy="415.3" r="2.0"/><circle cx="432.4" cy="415.3" r="2.0"/><circle cx="435.0" cy="414.6" r="2.0"/><circle cx="436.9" cy="415.3" r="2.0"/><circle cx="440.9" cy="414.4" r="2.0"/><circle cx="427.5" cy="418.4" r="2.0"/><circle cx="430.4" cy="418.1" r="2.0"/><circle cx="432.6" cy="417.5" r="2.0"/><circle cx="435.7" cy="417.9" r="2.0"/><circle cx="439.3" cy="417.4" r="2.0"/><circle cx="442.2" cy="417.9" r="2.0"/><circle cx="421.6" cy="417.6" r="2.0"/><circle cx="423.8" cy="418.6" r="2.0"/><circle cx="427.1" cy="417.5" r="2.0"/><circle cx="430.7" cy="418.4" r="2.0"/><circle cx="432.9" cy="417.8" r="2.0"/><circle cx="435.6" cy="418.1" r="2.0"/><circle cx="441.2" cy="417.5" r="2.0"/><circle cx="445.1" cy="418.1" r="2.0"/><circle cx="447.7" cy="417.9" r="2.0"/><circle cx="421.6" cy="421.2" r="2.0"/><circle cx="424.7" cy="421.2" r="2.0"/><circle cx="427.6" cy="420.1" r="2.0"/><circle cx="430.7" cy="420.6" r="2.0"/><circle cx="432.7" cy="421.2" r="2.0"/><circle cx="436.4" cy="420.4" r="2.0"/><circle cx="438.8" cy="420.5" r="2.0"/><circle cx="441.9" cy="421.2" r="2.0"/><circle cx="445.5" cy="421.0" r="2.0"/><circle cx="448.5" cy="421.0" r="2.0"/><circle cx="421.0" cy="423.2" r="2.0"/><circle cx="424.0" cy="423.8" r="2.0"/><circle cx="427.0" cy="423.7" r="2.0"/><circle cx="430.7" cy="423.7" r="2.0"/><circle cx="432.6" cy="423.7" r="2.0"/><circle cx="436.2" cy="423.2" r="2.0"/><circle cx="439.7" cy="422.9" r="2.0"/><circle cx="442.1" cy="423.4" r="2.0"/><circle cx="444.7" cy="423.8" r="2.0"/><circle cx="448.5" cy="422.8" r="2.0"/><circle cx="421.1" cy="426.5" r="2.0"/><circle cx="424.0" cy="426.3" r="2.0"/><circle cx="430.1" cy="426.2" r="2.0"/><circle cx="433.5" cy="426.3" r="2.0"/><circle cx="435.7" cy="425.4" r="2.0"/><circle cx="438.6" cy="425.7" r="2.0"/><circle cx="445.0" cy="426.2" r="2.0"/><circle cx="448.1" cy="425.8" r="2.0"/><circle cx="423.3" cy="425.4" r="2.0"/><circle cx="426.5" cy="425.5" r="2.0"/><circle cx="430.7" cy="426.2" r="2.0"/><circle cx="433.4" cy="425.6" r="2.0"/><circle cx="435.9" cy="425.9" r="2.0"/><circle cx="439.1" cy="426.3" r="2.0"/><circle cx="442.8" cy="425.8" r="2.0"/><circle cx="424.4" cy="428.1" r="2.0"/><circle cx="432.8" cy="427.8" r="2.0"/><circle cx="436.7" cy="428.0" r="2.0"/><circle cx="439.3" cy="428.6" r="2.0"/><circle cx="441.7" cy="428.0" r="2.0"/><circle cx="424.1" cy="431.0" r="2.0"/><circle cx="426.3" cy="430.3" r="2.0"/><circle cx="433.7" cy="430.7" r="2.0"/><circle cx="435.6" cy="431.2" r="2.0"/><circle cx="439.0" cy="430.9" r="2.0"/><circle cx="441.9" cy="431.2" r="2.0"/><circle cx="445.1" cy="431.2" r="2.0"/><circle cx="423.5" cy="433.0" r="2.0"/><circle cx="426.8" cy="433.5" r="2.0"/><circle cx="430.5" cy="432.8" r="2.0"/><circle cx="433.5" cy="433.0" r="2.0"/><circle cx="436.0" cy="432.9" r="2.0"/><circle cx="439.5" cy="432.8" r="2.0"/><circle cx="442.2" cy="432.9" r="2.0"/><circle cx="445.2" cy="432.9" r="2.0"/><circle cx="423.7" cy="435.7" r="2.0"/><circle cx="429.4" cy="435.4" r="2.0"/><circle cx="433.2" cy="436.2" r="2.0"/><circle cx="442.9" cy="435.8" r="2.0"/><circle cx="444.8" cy="436.2" r="2.0"/><circle cx="423.3" cy="437.9" r="2.0"/><circle cx="430.3" cy="437.7" r="2.0"/><circle cx="432.8" cy="437.8" r="2.0"/><circle cx="435.9" cy="437.7" r="2.0"/><circle cx="441.8" cy="437.6" r="2.0"/><circle cx="445.3" cy="437.6" r="2.0"/><circle cx="424.2" cy="440.7" r="2.0"/><circle cx="427.0" cy="440.8" r="2.0"/><circle cx="429.5" cy="441.0" r="2.0"/><circle cx="436.6" cy="440.5" r="2.0"/><circle cx="441.9" cy="440.7" r="2.0"/><circle cx="423.5" cy="442.5" r="2.0"/><circle cx="426.5" cy="442.7" r="2.0"/><circle cx="430.1" cy="443.6" r="2.0"/><circle cx="433.3" cy="442.5" r="2.0"/><circle cx="439.2" cy="443.1" r="2.0"/><circle cx="446.0" cy="443.2" r="2.0"/><circle cx="424.4" cy="445.1" r="2.0"/><circle cx="429.6" cy="446.1" r="2.0"/><circle cx="432.9" cy="445.3" r="2.0"/><circle cx="435.5" cy="445.3" r="2.0"/><circle cx="439.6" cy="444.9" r="2.0"/><circle cx="441.9" cy="445.4" r="2.0"/><circle cx="445.6" cy="445.1" r="2.0"/><circle cx="434.6" cy="309.3" r="2.0"/><circle cx="434.6" cy="343.7" r="2.0"/><circle cx="435.4" cy="376.4" r="2.0"/><circle cx="434.1" cy="380.4" r="2.0"/><circle cx="434.1" cy="390.4" r="2.0"/><circle cx="435.4" cy="392.6" r="2.0"/><circle cx="434.4" cy="396.8" r="2.0"/><circle cx="435.4" cy="399.8" r="2.0"/><circle cx="434.9" cy="408.8" r="2.0"/><circle cx="433.7" cy="411.0" r="2.0"/></g>
<g fill="#ff0000"><circle cx="478.3" cy="413.6" r="2.0"/><circle cx="481.8" cy="413.0" r="2.0"/><circle cx="486.3" cy="412.5" r="2.0"/><circle cx="488.7" cy="413.1" r="2.0"/><circle cx="478.0" cy="415.8" r="2.0"/><circle cx="481.6" cy="415.9" r="2.0"/><circle cx="484.6" cy="415.2" r="2.0"/><circle cx="487.5" cy="414.9" r="2.0"/><circle cx="489.6" cy="415.1" r="2.0"/><circle cx="480.6" cy="417.7" r="2.0"/><circle cx="484.4" cy="417.9" r="2.0"/><circle cx="486.7" cy="417.4" r="2.0"/><circle cx="490.7" cy="418.0" r="2.0"/><circle cx="477.4" cy="419.6" r="2.0"/><circle cx="480.2" cy="420.1" r="2.0"/><circle cx="482.8" cy="419.7" r="2.0"/><circle cx="485.3" cy="420.0" r="2.0"/><circle cx="487.7" cy="420.3" r="2.0"/><circle cx="491.2" cy="420.2" r="2.0"/><circle cx="472.6" cy="420.0" r="2.0"/><circle cx="476.6" cy="420.2" r="2.0"/><circle cx="480.1" cy="420.3" r="2.0"/><circle cx="482.4" cy="420.5" r="2.0"/><circle cx="485.4" cy="420.6" r="2.0"/><circle cx="488.2" cy="420.3" r="2.0"/><circle cx="491.9" cy="420.3" r="2.0"/><circle cx="494.3" cy="419.7" r="2.0"/><circle cx="472.6" cy="422.2" r="2.0"/><circle cx="476.2" cy="422.2" r="2.0"/><circle cx="480.0" cy="422.8" r="2.0"/><circle cx="482.8" cy="422.6" r="2.0"/><circle cx="485.5" cy="422.1" r="2.0"/><circle cx="488.1" cy="422.5" r="2.0"/><circle cx="495.2" cy="422.8" r="2.0"/><circle cx="473.6" cy="425.9" r="2.0"/><circle cx="476.7" cy="425.1" r="2.0"/><circle cx="479.9" cy="425.5" r="2.0"/><circle cx="483.0" cy="425.4" r="2.0"/><circle cx="484.8" cy="425.4" r="2.0"/><circle cx="488.3" cy="424.8" r="2.0"/><circle cx="491.2" cy="425.6" r="2.0"/><circle cx="494.3" cy="425.1" r="2.0"/><circle cx="474.0" cy="427.4" r="2.0"/><circle cx="477.0" cy="428.6" r="2.0"/><circle cx="479.2" cy="428.0" r="2.0"/><circle cx="482.4" cy="428.0" r="2.0"/><circle cx="484.9" cy="427.5" r="2.0"/><circle cx="488.0" cy="428.1" r="2.0"/><circle cx="491.3" cy="428.4" r="2.0"/><circle cx="494.5" cy="428.0" r="2.0"/><circle cx="473.9" cy="428.1" r="2.0"/><circle cx="475.9" cy="428.2" r="2.0"/><circle cx="479.7" cy="427.7" r="2.0"/><circle cx="482.9" cy="427.5" r="2.0"/><circle cx="485.1" cy="428.2" r="2.0"/><circle cx="489.0" cy="427.7" r="2.0"/><circle cx="491.9" cy="428.1" r="2.0"/><circle cx="494.3" cy="428.1" r="2.0"/><circle cx="473.5" cy="430.2" r="2.0"/><circle cx="476.3" cy="430.5" r="2.0"/><circle cx="478.8" cy="430.8" r="2.0"/><circle cx="482.2" cy="430.7" r="2.0"/><circle cx="485.7" cy="431.0" r="2.0"/><circle cx="488.3" cy="430.7" r="2.0"/><circle cx="491.2" cy="430.2" r="2.0"/><circle cx="495.2" cy="430.8" r="2.0"/><circle cx="476.1" cy="432.8" r="2.0"/><circle cx="478.8" cy="433.1" r="2.0"/><circle cx="481.8" cy="433.0" r="2.0"/><circle cx="486.1" cy="433.5" r="2.0"/><circle cx="488.2" cy="432.5" r="2.0"/><circle cx="491.7" cy="432.8" r="2.0"/><circle cx="494.7" cy="433.3" r="2.0"/><circle cx="472.7" cy="435.4" r="2.0"/><circle cx="476.0" cy="435.7" r="2.0"/><circle cx="479.2" cy="435.5" r="2.0"/><circle cx="482.8" cy="435.3" r="2.0"/><circle cx="486.1" cy="436.0" r="2.0"/><circle cx="488.0" cy="435.4" r="2.0"/><circle cx="491.3" cy="434.9" r="2.0"/><circle cx="476.3" cy="438.1" r="2.0"/><circle cx="478.8" cy="438.3" r="2.0"/><circle cx="482.4" cy="437.5" r="2.0"/><circle cx="485.0" cy="438.6" r="2.0"/><circle cx="488.3" cy="438.3" r="2.0"/><circle cx="491.1" cy="437.5" r="2.0"/><circle cx="494.7" cy="438.4" r="2.0"/><circle cx="472.8" cy="440.8" r="2.0"/><circle cx="476.1" cy="440.0" r="2.0"/><circle cx="480.1" cy="440.0" r="2.0"/><circle cx="482.8" cy="441.0" r="2.0"/><circle cx="489.2" cy="440.6" r="2.0"/><circle cx="491.6" cy="440.8" r="2.0"/><circle cx="494.2" cy="440.1" r="2.0"/><circle cx="476.8" cy="442.8" r="2.0"/><circle cx="479.1" cy="443.0" r="2.0"/><circle cx="486.0" cy="442.8" r="2.0"/><circle cx="488.9" cy="442.8" r="2.0"/><circle cx="491.5" cy="443.4" r="2.0"/><circle cx="472.6" cy="445.8" r="2.0"/><circle cx="476.9" cy="446.0" r="2.0"/><circle cx="479.9" cy="445.9" r="2.0"/><circle cx="482.3" cy="445.3" r="2.0"/><circle cx="485.4" cy="445.0" r="2.0"/><circle cx="489.2" cy="445.4" r="2.0"/><circle cx="492.2" cy="445.8" r="2.0"/><circle cx="495.3" cy="445.9" r="2.0"/><circle cx="484.1" cy="309.3" r="2.0"/><circle cx="483.1" cy="377.5" r="2.0"/><circle cx="484.8" cy="376.4" r="2.0"/><circle cx="483.6" cy="397.6" r="2.0"/><circle cx="483.6" cy="403.5" r="2.0"/><circle cx="482.6" cy="404.3" r="2.0"/></g>
<g fill="#0000ff"><circle cx="594.3" cy="372.3" r="2.0"/><circle cx="593.7" cy="375.2" r="2.0"/><circle cx="594.5" cy="377.6" r="2.0"/><circle cx="592.6" cy="378.4" r="2.0"/><circle cx="595.7" cy="378.4" r="2.0"/><circle cx="592.1" cy="381.0" r="2.0"/><circle cx="595.6" cy="380.7" r="2.0"/><circle cx="593.0" cy="383.1" r="2.0"/><circle cx="595.3" cy="383.3" r="2.0"/><circle cx="592.8" cy="385.2" r="2.0"/><circle cx="595.3" cy="385.0" r="2.0"/><circle cx="591.5" cy="388.4" r="2.0"/><circle cx="595.3" cy="387.5" r="2.0"/><circle cx="591.5" cy="390.5" r="2.0"/><circle cx="596.5" cy="391.0" r="2.0"/><circle cx="592.0" cy="393.5" r="2.0"/><circle cx="596.8" cy="393.3" r="2.0"/><circle cx="590.3" cy="393.1" r="2.0"/><circle cx="592.7" cy="393.4" r="2.0"/><circle cx="595.4" cy="392.9" r="2.0"/><circle cx="589.0" cy="395.2" r="2.0"/><circle cx="593.1" cy="395.6" r="2.0"/><circle cx="596.1" cy="394.8" r="2.0"/><circle cx="598.5" cy="395.7" r="2.0"/><circle cx="588.4" cy="397.8" r="2.0"/><circle cx="595.5" cy="397.5" r="2.0"/><circle cx="599.4" cy="397.5" r="2.0"/><circle cx="593.8" cy="400.5" r="2.0"/><circle cx="599.1" cy="400.0" r="2.0"/><circle cx="587.8" cy="402.7" r="2.0"/><circle cx="591.3" cy="402.2" r="2.0"/><circle cx="600.2" cy="402.2" r="2.0"/><circle cx="591.3" cy="405.4" r="2.0"/><circle cx="594.6" cy="404.6" r="2.0"/><circle cx="597.1" cy="405.5" r="2.0"/><circle cx="590.3" cy="405.1" r="2.0"/><circle cx="592.7" cy="405.4" r="2.0"/><circle cx="595.6" cy="404.7" r="2.0"/><circle cx="598.2" cy="405.0" r="2.0"/><circle cx="600.6" cy="404.4" r="2.0"/><circle cx="586.1" cy="408.0" r="2.0"/><circle cx="588.7" cy="407.7" r="2.0"/><circle cx="592.5" cy="408.2" r="2.0"/><circle cx="595.8" cy="407.9" r="2.0"/><circle cx="599.2" cy="407.9" r="2.0"/><circle cx="602.7" cy="408.2" r="2.0"/><circle cx="585.4" cy="410.3" r="2.0"/><circle cx="587.3" cy="410.7" r="2.0"/><circle cx="590.4" cy="410.3" r="2.0"/><circle cx="594.7" cy="410.1" r="2.0"/><circle cx="596.7" cy="410.0" r="2.0"/><circle cx="600.0" cy="410.5" r="2.0"/><circle cx="602.7" cy="410.0" r="2.0"/><circle cx="583.4" cy="412.8" r="2.0"/><circle cx="586.3" cy="413.0" r="2.0"/><circle cx="590.3" cy="413.0" r="2.0"/><circle cx="595.0" cy="413.1" r="2.0"/><circle cx="597.9" cy="412.5" r="2.0"/><circle cx="601.9" cy="412.9" r="2.0"/><circle cx="604.1" cy="412.8" r="2.0"/><circle cx="580.6" cy="412.6" r="2.0"/><circle cx="586.0" cy="413.4" r="2.0"/><circle cx="589.4" cy="413.2" r="2.0"/><circle cx="595.4" cy="412.8" r="2.0"/><circle cx="598.6" cy="413.3" r="2.0"/><circle cx="604.1" cy="413.4" r="2.0"/><circle cx="607.3" cy="413.2" r="2.0"/><circle cx="581.4" cy="415.4" r="2.0"/><circle cx="583.3" cy="414.9" r="2.0"/><circle cx="592.3" cy="415.3" r="2.0"/><circle cx="595.3" cy="415.8" r="2.0"/><circle cx="598.4" cy="415.8" r="2.0"/><circle cx="601.3" cy="415.1" r="2.0"/><circle cx="604.4" cy="415.7" r="2.0"/><circle cx="607.0" cy="415.2" r="2.0"/><circle cx="581.4" cy="417.7" r="2.0"/><circle cx="583.5" cy="418.1" r="2.0"/><circle cx="586.9" cy="417.1" r="2.0"/><circle cx="589.0" cy="418.0" r="2.0"/><circle cx="592.2" cy="417.1" r="2.0"/><circle cx="595.8" cy="417.9" r="2.0"/><circle cx="604.9" cy="417.2" r="2.0"/><circle cx="580.4" cy="420.3" r="2.0"/><circle cx="586.1" cy="420.4" r="2.0"/><circle cx="589.7" cy="420.6" r="2.0"/><circle cx="591.9" cy="419.5" r="2.0"/><circle cx="595.8" cy="420.2" r="2.0"/><circle cx="597.9" cy="419.6" r="2.0"/><circle cx="601.6" cy="420.6" r="2.0"/><circle cx="604.9" cy="419.9" r="2.0"/><circle cx="606.9" cy="419.7" r="2.0"/><circle cx="589.2" cy="419.6" r="2.0"/><circle cx="592.3" cy="420.3" r="2.0"/><circle cx="595.5" cy="420.2" r="2.0"/><circle cx="598.3" cy="420.3" r="2.0"/><circle cx="601.2" cy="420.5" r="2.0"/><circle cx="604.0" cy="419.9" r="2.0"/><circle cx="592.0" cy="422.0" r="2.0"/><circle cx="595.7" cy="421.8" r="2.0"/><circle cx="603.5" cy="422.8" r="2.0"/><circle cx="584.0" cy="424.9" r="2.0"/><circle cx="586.6" cy="425.4" r="2.0"/><circle cx="595.2" cy="424.7" r="2.0"/><circle cx="598.9" cy="425.2" r="2.0"/><circle cx="586.5" cy="427.5" r="2.0"/><circle cx="589.8" cy="426.8" r="2.0"/><circle cx="595.1" cy="427.7" r="2.0"/><circle cx="599.0" cy="427.5" r="2.0"/><circle cx="601.7" cy="427.3" r="2.0"/><circle cx="583.7" cy="430.1" r="2.0"/><circle cx="587.1" cy="429.1" r="2.0"/><circle cx="589.1" cy="430.0" r="2.0"/><circle cx="592.9" cy="429.3" r="2.0"/><circle cx="595.7" cy="429.1" r="2.0"/><circle cx="598.7" cy="429.3" r="2.0"/><circle cx="601.0" cy="429.4" r="2.0"/><circle cx="589.7" cy="432.4" r="2.0"/><circle cx="596.0" cy="431.9" r="2.0"/><circle cx="600.8" cy="432.3" r="2.0"/><circle cx="604.5" cy="431.5" r="2.0"/><circle cx="592.6" cy="431.6" r="2.0"/><circle cx="595.6" cy="431.7" r="2.0"/><circle cx="588.8" cy="434.0" r="2.0"/><circle cx="599.2" cy="434.5" r="2.0"/><circle cx="589.1" cy="436.8" r="2.0"/><circle cx="595.2" cy="437.4" r="2.0"/><circle cx="598.8" cy="437.0" r="2.0"/><circle cx="589.3" cy="437.5" r="2.0"/><circle cx="593.0" cy="436.7" r="2.0"/><circle cx="598.8" cy="437.1" r="2.0"/><circle cx="595.4" cy="440.1" r="2.0"/><circle cx="597.6" cy="440.1" r="2.0"/><circle cx="592.9" cy="441.9" r="2.0"/><circle cx="595.9" cy="442.8" r="2.0"/><circle cx="590.1" cy="445.0" r="2.0"/><circle cx="592.1" cy="444.5" r="2.0"/><circle cx="595.4" cy="444.6" r="2.0"/><circle cx="598.3" cy="445.2" r="2.0"/><circle cx="593.9" cy="354.2" r="2.0"/></g>
<g fill="#ff0000"><circle cx="638.5" cy="386.5" r="2.0"/><circle cx="642.4" cy="386.6" r="2.0"/><circle cx="644.7" cy="386.6" r="2.0"/><circle cx="647.5" cy="385.8" r="2.0"/><circle cx="638.6" cy="387.5" r="2.0"/><circle cx="642.0" cy="388.1" r="2.0"/><circle cx="647.2" cy="388.5" r="2.0"/><circle cx="639.1" cy="390.4" r="2.0"/><circle cx="641.6" cy="390.1" r="2.0"/><circle cx="645.3" cy="389.7" r="2.0"/><circle cx="638.3" cy="390.1" r="2.0"/><circle cx="641.8" cy="389.5" r="2.0"/><circle cx="647.7" cy="390.5" r="2.0"/><circle cx="641.8" cy="392.1" r="2.0"/><circle cx="644.8" cy="393.2" r="2.0"/><circle cx="648.5" cy="392.1" r="2.0"/><circle cx="637.6" cy="395.4" r="2.0"/><circle cx="642.8" cy="394.9" r="2.0"/><circle cx="650.0" cy="395.1" r="2.0"/><circle cx="638.6" cy="398.6" r="2.0"/><circle cx="642.0" cy="397.5" r="2.0"/><circle cx="650.7" cy="397.7" r="2.0"/><circle cx="634.8" cy="398.2" r="2.0"/><circle cx="648.3" cy="397.6" r="2.0"/><circle cx="651.5" cy="397.8" r="2.0"/><circle cx="637.0" cy="399.9" r="2.0"/><circle cx="640.5" cy="400.7" r="2.0"/><circle cx="643.2" cy="400.4" r="2.0"/><circle cx="645.9" cy="400.4" r="2.0"/><circle cx="648.3" cy="400.2" r="2.0"/><circle cx="652.1" cy="400.0" r="2.0"/><circle cx="636.7" cy="402.6" r="2.0"/><circle cx="640.0" cy="403.0" r="2.0"/><circle cx="643.4" cy="403.1" r="2.0"/><circle cx="646.2" cy="403.2" r="2.0"/><circle cx="648.7" cy="402.2" r="2.0"/><circle cx="651.8" cy="402.2" r="2.0"/><circle cx="633.9" cy="404.8" r="2.0"/><circle cx="637.7" cy="404.7" r="2.0"/><circle cx="639.9" cy="404.8" r="2.0"/><circle cx="646.2" cy="404.6" r="2.0"/><circle cx="648.8" cy="405.4" r="2.0"/><circle cx="651.9" cy="405.2" r="2.0"/><circle cx="633.0" cy="404.8" r="2.0"/><circle cx="636.3" cy="405.3" r="2.0"/><circle cx="638.4" cy="405.2" r="2.0"/><circle cx="642.0" cy="404.5" r="2.0"/><circle cx="647.2" cy="404.9" r="2.0"/><circle cx="649.9" cy="405.2" r="2.0"/><circle cx="632.5" cy="407.6" r="2.0"/><circle cx="635.6" cy="407.6" r="2.0"/><circle cx="638.3" cy="406.9" r="2.0"/><circle cx="642.4" cy="407.9" r="2.0"/><circle cx="644.7" cy="407.4" r="2.0"/><circle cx="647.9" cy="407.4" r="2.0"/><circle cx="654.2" cy="407.8" r="2.0"/><circle cx="632.1" cy="409.8" r="2.0"/><circle cx="635.9" cy="410.0" r="2.0"/><circle cx="639.3" cy="409.3" r="2.0"/><circle cx="642.1" cy="409.3" r="2.0"/><circle cx="644.1" cy="409.9" r="2.0"/><circle cx="647.5" cy="410.0" r="2.0"/><circle cx="651.1" cy="409.5" r="2.0"/><circle cx="631.7" cy="411.7" r="2.0"/><circle cx="636.0" cy="412.4" r="2.0"/><circle cx="639.1" cy="412.5" r="2.0"/><circle cx="641.5" cy="412.4" r="2.0"/><circle cx="644.1" cy="412.0" r="2.0"/><circle cx="654.6" cy="412.5" r="2.0"/><circle cx="636.0" cy="414.8" r="2.0"/><circle cx="641.2" cy="414.6" r="2.0"/><circle cx="644.5" cy="414.4" r="2.0"/><circle cx="648.0" cy="414.3" r="2.0"/><circle cx="651.1" cy="414.6" r="2.0"/><circle cx="654.4" cy="414.2" r="2.0"/><circle cx="631.7" cy="417.3" r="2.0"/><circle cx="635.6" cy="417.0" r="2.0"/><circle cx="639.0" cy="417.0" r="2.0"/><circle cx="641.3" cy="416.9" r="2.0"/><circle cx="645.2" cy="417.0" r="2.0"/><circle cx="647.6" cy="416.9" r="2.0"/><circle cx="650.9" cy="416.8" r="2.0"/><circle cx="634.8" cy="417.3" r="2.0"/><circle cx="638.6" cy="417.2" r="2.0"/><circle cx="641.3" cy="416.5" r="2.0"/><circle cx="644.1" cy="417.6" r="2.0"/><circle cx="648.2" cy="417.6" r="2.0"/><circle cx="654.2" cy="416.5" r="2.0"/><circle cx="638.3" cy="419.2" r="2.0"/><circle cx="641.9" cy="420.0" r="2.0"/><circle cx="651.0" cy="419.3" r="2.0"/><circle cx="631.9" cy="421.7" r="2.0"/><circle cx="642.1" cy="422.5" r="2.0"/><circle cx="644.3" cy="422.3" r="2.0"/><circle cx="647.3" cy="422.5" r="2.0"/><circle cx="650.8" cy="422.1" r="2.0"/><circle cx="653.4" cy="421.9" r="2.0"/><circle cx="631.8" cy="424.3" r="2.0"/><circle cx="638.9" cy="424.6" r="2.0"/><circle cx="641.0" cy="424.7" r="2.0"/><circle cx="644.4" cy="424.1" r="2.0"/><circle cx="654.0" cy="424.6" r="2.0"/><circle cx="632.0" cy="426.8" r="2.0"/><circle cx="635.8" cy="427.0" r="2.0"/><circle cx="638.3" cy="426.8" r="2.0"/><circle cx="641.5" cy="427.5" r="2.0"/><circle cx="645.4" cy="426.7" r="2.0"/><circle cx="650.8" cy="426.9" r="2.0"/><circle cx="654.1" cy="427.4" r="2.0"/><circle cx="633.2" cy="429.5" r="2.0"/><circle cx="638.6" cy="429.2" r="2.0"/><circle cx="642.1" cy="429.9" r="2.0"/><circle cx="644.5" cy="429.9" r="2.0"/><circle cx="647.3" cy="429.8" r="2.0"/><circle cx="651.3" cy="429.0" r="2.0"/><circle cx="653.2" cy="428.9" r="2.0"/><circle cx="632.4" cy="431.8" r="2.0"/><circle cx="635.9" cy="431.7" r="2.0"/><circle cx="642.4" cy="431.6" r="2.0"/><circle cx="644.6" cy="431.8" r="2.0"/><circle cx="651.0" cy="431.8" r="2.0"/><circle cx="653.6" cy="432.1" r="2.0"/><circle cx="636.4" cy="432.5" r="2.0"/><circle cx="639.6" cy="432.2" r="2.0"/><circle cx="643.0" cy="431.8" r="2.0"/><circle cx="649.3" cy="432.5" r="2.0"/><circle cx="637.5" cy="434.2" r="2.0"/><circle cx="645.9" cy="434.3" r="2.0"/><circle cx="638.7" cy="437.0" r="2.0"/><circle cx="644.5" cy="437.7" r="2.0"/><circle cx="641.7" cy="439.4" r="2.0"/><circle cx="644.9" cy="440.0" r="2.0"/><circle cx="647.8" cy="439.3" r="2.0"/><circle cx="641.9" cy="442.1" r="2.0"/><circle cx="644.0" cy="442.3" r="2.0"/><circle cx="639.7" cy="445.1" r="2.0"/><circle cx="643.4" cy="445.2" r="2.0"/><circle cx="646.0" cy="444.8" r="2.0"/><circle cx="643.6" cy="439.8" r="2.0"/><circle cx="647.1" cy="440.4" r="2.0"/><circle cx="639.4" cy="442.6" r="2.0"/><circle cx="643.8" cy="443.0" r="2.0"/><circle cx="640.5" cy="444.5" r="2.0"/><circle cx="645.7" cy="445.4" r="2.0"/><circle cx="643.1" cy="321.6" r="2.0"/><circle cx="643.1" cy="331.2" r="2.0"/><circle cx="642.9" cy="349.0" r="2.0"/><circle cx="642.9" cy="362.1" r="2.0"/><circle cx="642.9" cy="370.9" r="2.0"/></g>
<line x1="102" y1="181.4" x2="118.7" y2="181.4" stroke="#1c1c80" stroke-width="1"/>
<line x1="152" y1="165.5" x2="168.6" y2="165.5" stroke="#8a1010" stroke-width="1"/>
<line x1="254.5" y1="177.0" x2="270.9" y2="177.0" stroke="#1c1c80" stroke-width="1"/>
<line x1="304" y1="169.3" x2="320" y2="169.3" stroke="#8a1010" stroke-width="1"/>
<line x1="306" y1="435.8" x2="322.2" y2="435.8" stroke="#8a2020" stroke-width="1"/>
</svg>
</body></html>
